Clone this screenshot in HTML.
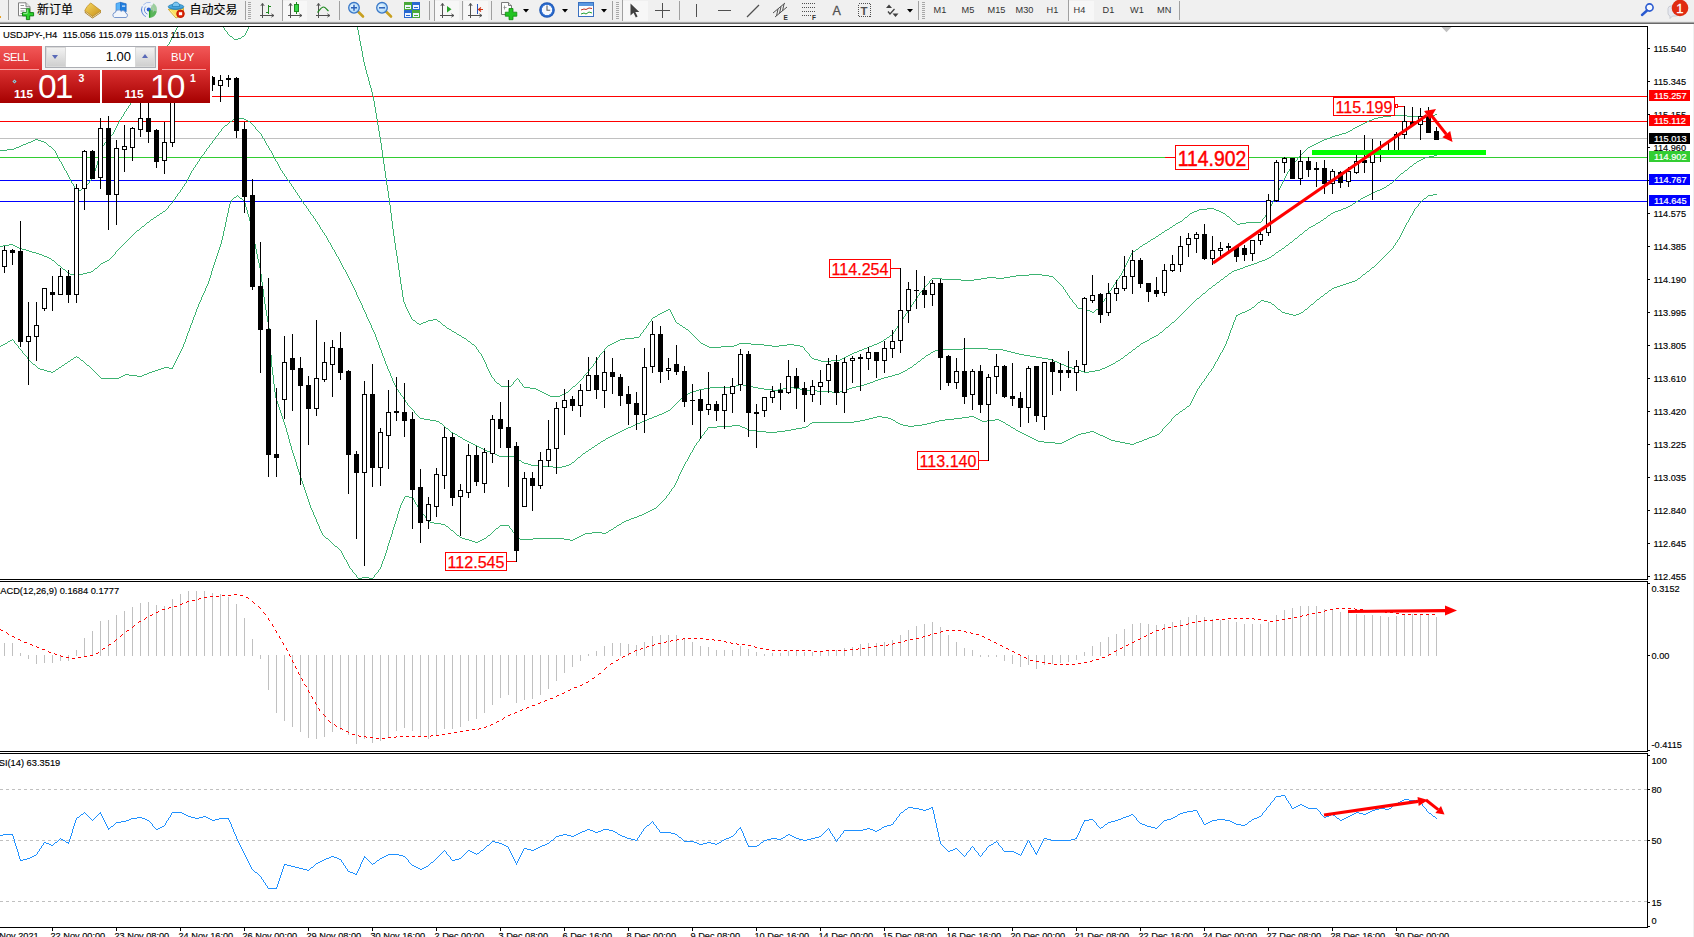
<!DOCTYPE html>
<html><head><meta charset="utf-8"><title>USDJPY H4</title>
<style>
html,body{margin:0;padding:0;background:#fff;}
body{width:1694px;height:937px;overflow:hidden;position:relative;font-family:"Liberation Sans","Noto Sans CJK SC",sans-serif;}
#chart{position:absolute;left:0;top:0;}
#chart text{font-family:"Liberation Sans","Noto Sans CJK SC",sans-serif;white-space:pre;}
#tb{position:absolute;left:0;top:0;width:1694px;height:21px;background:#f0f0f0;}
#tbb{position:absolute;left:0;top:21px;width:1694px;height:3px;background:linear-gradient(#e6e6e6 0,#e6e6e6 33%,#a4a4a4 33%,#a4a4a4 66%,#696969 66%);}
#redge{position:absolute;left:1693px;top:24px;width:1px;height:913px;background:#f0f0f0;}
.tt{position:absolute;top:3px;font-size:12px;line-height:14px;color:#000;white-space:nowrap;-webkit-text-stroke:0.12px #000;}
.tf{position:absolute;top:4px;font-size:9.2px;line-height:13px;color:#333;white-space:nowrap;}
/* trade panel */
#tp{position:absolute;left:0;top:46px;width:210px;height:57px;}
#tp div{position:absolute;box-sizing:border-box;}
.btn{background:linear-gradient(#f25858,#dc3030);color:#fff;font-size:11.3px;line-height:23px;height:24px;top:0;}
.pp{background:linear-gradient(#d93030,#a60000);top:24px;height:33px;color:#fff;}
.sm{font-size:10.5px;font-weight:bold;line-height:10px;}
.sm2{font-size:11.8px;font-weight:bold;line-height:12px;}
.bg{font-size:33.5px;line-height:32px;letter-spacing:-1.8px;}
</style></head><body>
<svg id="chart" width="1694" height="937" viewBox="0 0 1694 937">
<defs><clipPath id="mainclip"><rect x="0" y="27" width="1647" height="552"/></clipPath></defs>
<g shape-rendering="crispEdges">
<rect x="0" y="96" width="1647" height="1" fill="#ff0000"/>
<rect x="0" y="121" width="1647" height="1" fill="#ff0000"/>
<rect x="0" y="138" width="1647" height="1" fill="#c0c0c0"/>
<rect x="0" y="157" width="1647" height="1" fill="#32cd32"/>
<rect x="0" y="180" width="1647" height="1" fill="#0000ff"/>
<rect x="0" y="201" width="1647" height="1" fill="#0000ff"/>
</g>
<path d="M0 150h7v1h-7zM21 145h2v1h-2zM23 144h3v1h-3zM35 139h3v1h-3zM19 146h2v1h-2zM49 146h2v1h-2zM76 190h5v1h-5zM31 141h2v1h-2zM41 141h3v1h-3zM16 147h3v1h-3zM33 140h2v1h-2zM38 140h3v1h-3zM28 142h3v1h-3zM44 142h2v1h-2zM7 149h7v1h-7zM82 188h2v1h-2zM14 148h2v1h-2zM26 143h2v1h-2zM61 162h1v2h-1zM97 161h1v4h-1zM69 177h1v2h-1zM92 177h1v2h-1zM57 155h1v2h-1zM99 155h1v3h-1zM158 58h1v2h-1zM54 150h1v1h-1zM101 148h1v3h-1zM160 55h1v2h-1zM167 45h1v2h-1zM136 93h1v2h-1zM170 40h1v2h-1zM118 122h1v2h-1zM48 145h1v1h-1zM103 145h1v1h-1zM47 144h1v1h-1zM104 143h1v2h-1zM174 32h1v2h-1zM175 30h1v2h-1zM68 175h1v2h-1zM93 174h1v3h-1zM64 168h1v2h-1zM95 168h1v3h-1zM108 139h1v1h-1zM102 146h1v2h-1zM146 76h1v2h-1zM74 186h1v2h-1zM84 187h1v1h-1zM58 157h1v2h-1zM98 158h1v3h-1zM106 141h1v1h-1zM124 112h1v2h-1zM51 147h1v1h-1zM126 109h1v2h-1zM116 126h1v2h-1zM107 140h1v1h-1zM62 164h1v2h-1zM96 165h1v3h-1zM105 142h1v1h-1zM123 114h1v2h-1zM134 96h1v2h-1zM156 61h1v2h-1zM115 128h1v2h-1zM67 173h1v2h-1zM94 171h1v3h-1zM150 70h1v1h-1zM152 67h1v1h-1zM173 34h1v2h-1zM71 181h1v2h-1zM89 181h1v2h-1zM153 65h1v2h-1zM59 159h1v2h-1zM53 149h1v1h-1zM162 52h1v2h-1zM142 83h1v2h-1zM164 49h1v2h-1zM149 71h1v2h-1zM55 151h1v2h-1zM100 151h1v4h-1zM63 166h1v2h-1zM151 68h1v2h-1zM60 161h1v1h-1zM159 57h1v1h-1zM140 86h1v2h-1zM112 134h1v1h-1zM114 130h1v2h-1zM113 132h1v2h-1zM161 54h1v1h-1zM119 120h1v2h-1zM130 103h1v2h-1zM70 179h1v2h-1zM90 180h1v1h-1zM132 100h1v1h-1zM110 136h1v1h-1zM109 137h1v2h-1zM111 135h1v1h-1zM148 73h1v2h-1zM169 42h1v2h-1zM56 153h1v2h-1zM75 188h1v2h-1zM176 28h1v2h-1zM117 124h1v2h-1zM145 78h1v2h-1zM147 75h1v1h-1zM52 148h1v1h-1zM137 91h1v2h-1zM139 88h1v2h-1zM65 170h1v1h-1zM177 27h1v1h-1zM128 106h1v2h-1zM46 143h1v1h-1zM125 111h1v1h-1zM127 108h1v1h-1zM66 171h1v2h-1zM141 85h1v1h-1zM143 81h1v2h-1zM133 98h1v2h-1zM81 189h1v1h-1zM73 184h1v2h-1zM86 185h1v1h-1zM87 184h1v1h-1zM131 101h1v2h-1zM163 51h1v1h-1zM165 48h1v1h-1zM85 186h1v1h-1zM121 117h1v2h-1zM122 116h1v1h-1zM171 38h1v2h-1zM120 119h1v1h-1zM91 179h1v1h-1zM172 36h1v2h-1zM155 63h1v1h-1zM157 60h1v1h-1zM72 183h1v1h-1zM88 183h1v1h-1zM154 64h1v1h-1zM166 47h1v1h-1zM168 44h1v1h-1zM144 80h1v1h-1zM135 95h1v1h-1zM138 90h1v1h-1zM129 105h1v1h-1z" fill="#3cb371" shape-rendering="crispEdges"/>
<path d="M230 36h2v1h-2zM242 36h2v1h-2zM234 39h4v1h-4zM238 38h3v1h-3zM224 28h1v2h-1zM247 29h1v2h-1zM227 32h1v2h-1zM246 31h1v2h-1zM233 38h1v1h-1zM232 37h1v1h-1zM241 37h1v1h-1zM223 27h1v1h-1zM248 27h1v2h-1zM228 34h1v1h-1zM245 33h1v2h-1zM229 35h1v1h-1zM244 35h1v1h-1zM225 30h1v1h-1zM226 31h1v1h-1z" fill="#3cb371" shape-rendering="crispEdges"/>
<path d="M472 344h2v1h-2zM610 344h2v1h-2zM703 344h2v1h-2zM737 344h2v1h-2zM751 344h13v1h-13zM787 344h7v1h-7zM874 344h3v1h-3zM961 280h13v1h-13zM608 345h2v1h-2zM705 345h2v1h-2zM734 345h3v1h-3zM764 345h8v1h-8zM779 345h8v1h-8zM794 345h6v1h-6zM872 345h2v1h-2zM1383 116h8v1h-8zM1407 116h25v1h-25zM814 359h4v1h-4zM840 359h2v1h-2zM1140 246h2v1h-2zM454 332h2v1h-2zM464 338h2v1h-2zM625 338h9v1h-9zM818 360h3v1h-3zM831 360h9v1h-9zM1374 118h4v1h-4zM854 352h3v1h-3zM1197 210h2v1h-2zM1216 210h3v1h-3zM620 339h5v1h-5zM884 339h2v1h-2zM1156 236h2v1h-2zM812 358h2v1h-2zM842 358h2v1h-2zM550 396h10v1h-10zM1335 135h4v1h-4zM417 323h2v1h-2zM421 323h2v1h-2zM677 323h2v1h-2zM932 278h10v1h-10zM981 278h6v1h-6zM996 278h8v1h-8zM942 279h19v1h-19zM974 279h7v1h-7zM612 343h2v1h-2zM701 343h2v1h-2zM739 343h12v1h-12zM877 343h2v1h-2zM1010 276h6v1h-6zM1049 276h4v1h-4zM501 386h10v1h-10zM573 386h2v1h-2zM668 309h2v1h-2zM1082 309h5v1h-5zM1096 309h2v1h-2zM707 346h2v1h-2zM721 346h13v1h-13zM772 346h7v1h-7zM800 346h3v1h-3zM869 346h3v1h-3zM1029 274h13v1h-13zM1391 115h16v1h-16zM1432 115h3v1h-3zM1348 131h2v1h-2zM1194 211h3v1h-3zM1219 211h2v1h-2zM1237 224h3v1h-3zM1316 143h2v1h-2zM433 319h4v1h-4zM1367 121h2v1h-2zM1199 209h8v1h-8zM1214 209h2v1h-2zM1180 221h2v1h-2zM1233 221h2v1h-2zM1308 147h2v1h-2zM666 310h2v1h-2zM1087 310h3v1h-3zM1176 223h2v1h-2zM1240 223h6v1h-6zM846 356h2v1h-2zM1355 127h2v1h-2zM1339 134h3v1h-3zM709 347h12v1h-12zM867 347h2v1h-2zM449 329h2v1h-2zM686 329h2v1h-2zM548 395h2v1h-2zM560 395h2v1h-2zM1016 275h13v1h-13zM1042 275h7v1h-7zM459 335h2v1h-2zM890 335h2v1h-2zM1078 308h4v1h-4zM544 393h2v1h-2zM564 393h2v1h-2zM1192 212h2v1h-2zM1221 212h2v1h-2zM1324 139h3v1h-3zM542 392h2v1h-2zM566 392h2v1h-2zM447 328h2v1h-2zM662 312h2v1h-2zM1092 312h2v1h-2zM987 277h9v1h-9zM1004 277h6v1h-6zM1133 251h2v1h-2zM1361 124h2v1h-2zM844 357h2v1h-2zM658 314h2v1h-2zM468 341h2v1h-2zM616 341h2v1h-2zM881 341h2v1h-2zM1435 114h2v1h-2zM1378 117h5v1h-5zM419 324h2v1h-2zM443 325h2v1h-2zM680 325h2v1h-2zM852 353h2v1h-2zM1342 133h4v1h-4zM426 321h2v1h-2zM438 321h2v1h-2zM1363 123h2v1h-2zM1327 138h3v1h-3zM1178 222h2v1h-2zM1246 222h15v1h-15zM1190 213h2v1h-2zM1223 213h2v1h-2zM1227 216h2v1h-2zM1346 132h2v1h-2zM457 334h2v1h-2zM1357 126h2v1h-2zM859 350h3v1h-3zM1207 208h7v1h-7zM683 327h2v1h-2zM664 311h2v1h-2zM1090 311h2v1h-2zM618 340h2v1h-2zM1173 225h2v1h-2zM423 322h3v1h-3zM1145 243h2v1h-2zM1353 128h2v1h-2zM546 394h2v1h-2zM562 394h2v1h-2zM1372 119h2v1h-2zM660 313h2v1h-2zM530 388h6v1h-6zM497 383h2v1h-2zM462 337h2v1h-2zM634 337h5v1h-5zM887 337h2v1h-2zM821 361h10v1h-10zM1314 144h2v1h-2zM538 390h2v1h-2zM1330 137h2v1h-2zM524 387h6v1h-6zM1136 249h2v1h-2zM413 320h2v1h-2zM428 320h5v1h-5zM1165 230h2v1h-2zM862 349h2v1h-2zM1162 232h2v1h-2zM1185 217h2v1h-2zM1322 140h2v1h-2zM536 389h2v1h-2zM1365 122h2v1h-2zM1332 136h3v1h-3zM848 355h2v1h-2zM1143 244h2v1h-2zM452 331h2v1h-2zM1350 130h2v1h-2zM850 354h2v1h-2zM857 351h2v1h-2zM1153 238h2v1h-2zM1312 145h2v1h-2zM614 342h2v1h-2zM879 342h2v1h-2zM540 391h2v1h-2zM1167 229h2v1h-2zM864 348h3v1h-3zM1159 234h2v1h-2zM1320 141h2v1h-2zM1170 227h2v1h-2zM655 316h2v1h-2zM1151 239h2v1h-2zM1318 142h2v1h-2zM1369 120h3v1h-3zM1310 146h2v1h-2zM1148 241h2v1h-2zM653 317h2v1h-2zM1359 125h2v1h-2zM386 178h1v7h-1zM1281 184h1v2h-1zM363 57h1v5h-1zM400 277h1v7h-1zM930 280h1v1h-1zM1056 280h1v1h-1zM1117 279h1v2h-1zM474 345h1v1h-1zM376 113h1v6h-1zM402 290h1v7h-1zM921 291h1v1h-1zM1065 290h1v2h-1zM1109 291h1v2h-1zM919 293h1v2h-1zM1067 293h1v2h-1zM1107 294h1v2h-1zM496 382h1v1h-1zM513 382h1v2h-1zM520 382h1v1h-1zM578 382h1v1h-1zM483 358h1v2h-1zM597 358h1v2h-1zM395 243h1v7h-1zM642 332h1v1h-1zM690 332h1v1h-1zM893 332h1v2h-1zM696 338h1v1h-1zM886 338h1v1h-1zM484 360h1v2h-1zM596 360h1v1h-1zM479 352h1v1h-1zM602 352h1v1h-1zM807 352h1v1h-1zM396 250h1v6h-1zM1132 252h1v1h-1zM403 297h1v5h-1zM916 298h1v1h-1zM1070 298h1v1h-1zM1105 298h1v1h-1zM391 213h1v8h-1zM1189 214h1v1h-1zM1225 214h1v1h-1zM1266 214h1v1h-1zM390 205h1v8h-1zM1268 210h1v2h-1zM359 35h1v6h-1zM466 339h1v1h-1zM697 339h1v1h-1zM385 171h1v7h-1zM1287 172h1v2h-1zM394 236h1v7h-1zM379 131h1v6h-1zM370 85h1v3h-1zM397 256h1v7h-1zM1128 259h1v2h-1zM441 323h1v1h-1zM648 323h1v2h-1zM899 323h1v2h-1zM1054 278h1v1h-1zM1118 278h1v1h-1zM931 279h1v1h-1zM1055 279h1v1h-1zM471 343h1v1h-1zM373 96h1v5h-1zM398 263h1v7h-1zM1123 269h1v2h-1zM486 364h1v3h-1zM593 364h1v2h-1zM399 270h1v7h-1zM1119 276h1v2h-1zM523 386h1v1h-1zM388 191h1v7h-1zM1275 196h1v2h-1zM407 309h1v2h-1zM909 308h1v2h-1zM389 198h1v7h-1zM1274 198h1v2h-1zM387 185h1v6h-1zM475 346h1v1h-1zM607 346h1v1h-1zM1108 293h1v1h-1zM1121 273h1v2h-1zM365 66h1v4h-1zM392 221h1v8h-1zM1175 224h1v1h-1zM490 373h1v2h-1zM585 374h1v1h-1zM366 70h1v4h-1zM381 143h1v7h-1zM412 319h1v1h-1zM651 319h1v2h-1zM674 318h1v2h-1zM902 319h1v1h-1zM393 229h1v7h-1zM1158 235h1v1h-1zM1277 192h1v2h-1zM1182 220h1v1h-1zM1232 220h1v1h-1zM1262 219h1v2h-1zM915 299h1v2h-1zM1072 300h1v2h-1zM1104 299h1v2h-1zM494 379h1v2h-1zM515 380h1v1h-1zM519 380h1v2h-1zM580 380h1v1h-1zM377 119h1v6h-1zM1269 208h1v2h-1zM1285 176h1v2h-1zM1261 221h1v1h-1zM1127 261h1v2h-1zM929 281h1v2h-1zM1057 281h1v1h-1zM1116 281h1v1h-1zM1142 245h1v1h-1zM1058 282h1v1h-1zM1115 282h1v2h-1zM375 107h1v6h-1zM917 296h1v2h-1zM1069 296h1v2h-1zM1106 296h1v2h-1zM670 310h1v2h-1zM908 310h1v1h-1zM1095 310h1v1h-1zM1236 223h1v1h-1zM401 284h1v6h-1zM924 287h1v1h-1zM1063 287h1v2h-1zM1112 287h1v1h-1zM485 362h1v2h-1zM595 361h1v2h-1zM482 356h1v2h-1zM599 355h1v2h-1zM810 356h1v1h-1zM358 30h1v5h-1zM378 125h1v6h-1zM371 88h1v4h-1zM1276 194h1v2h-1zM476 347h1v2h-1zM606 347h1v1h-1zM803 347h1v1h-1zM384 164h1v7h-1zM1289 169h1v2h-1zM644 329h1v1h-1zM895 329h1v2h-1zM451 330h1v1h-1zM643 330h1v2h-1zM688 330h1v1h-1zM1120 275h1v1h-1zM382 150h1v7h-1zM1300 155h1v1h-1zM928 283h1v1h-1zM1059 283h1v1h-1zM640 334h1v2h-1zM693 335h1v1h-1zM1188 215h1v1h-1zM1226 215h1v1h-1zM1265 215h1v2h-1zM406 307h1v2h-1zM1098 308h1v1h-1zM1267 212h1v2h-1zM499 384h1v1h-1zM512 384h1v1h-1zM522 384h1v2h-1zM576 384h1v1h-1zM360 41h1v5h-1zM927 284h1v1h-1zM1060 284h1v1h-1zM1114 284h1v1h-1zM1288 171h1v1h-1zM361 46h1v5h-1zM405 304h1v3h-1zM911 305h1v2h-1zM1076 305h1v2h-1zM1100 306h1v1h-1zM374 101h1v6h-1zM380 137h1v6h-1zM1284 178h1v2h-1zM1071 299h1v1h-1zM645 328h1v1h-1zM685 328h1v1h-1zM896 328h1v1h-1zM408 311h1v2h-1zM671 312h1v2h-1zM907 311h1v2h-1zM383 157h1v7h-1zM1294 162h1v2h-1zM367 74h1v3h-1zM1053 277h1v1h-1zM491 375h1v2h-1zM584 375h1v1h-1zM598 357h1v1h-1zM811 357h1v1h-1zM495 381h1v1h-1zM514 381h1v1h-1zM579 381h1v1h-1zM409 313h1v2h-1zM672 314h1v2h-1zM905 314h1v2h-1zM925 286h1v1h-1zM1062 286h1v1h-1zM1113 285h1v2h-1zM699 341h1v1h-1zM442 324h1v1h-1zM679 324h1v1h-1zM647 325h1v1h-1zM898 325h1v1h-1zM1138 248h1v1h-1zM480 353h1v1h-1zM601 353h1v1h-1zM808 353h1v1h-1zM586 373h1v1h-1zM1155 237h1v1h-1zM1183 219h1v1h-1zM1231 219h1v1h-1zM415 321h1v1h-1zM650 321h1v1h-1zM675 320h1v2h-1zM901 320h1v2h-1zM1286 174h1v2h-1zM592 366h1v1h-1zM1235 222h1v1h-1zM488 369h1v2h-1zM589 369h1v2h-1zM404 302h1v2h-1zM913 302h1v2h-1zM1073 302h1v1h-1zM1102 302h1v2h-1zM1139 247h1v1h-1zM1273 200h1v2h-1zM1187 216h1v1h-1zM692 334h1v1h-1zM892 334h1v1h-1zM922 290h1v1h-1zM1110 290h1v1h-1zM478 350h1v2h-1zM604 349h1v2h-1zM805 350h1v1h-1zM493 378h1v1h-1zM517 378h1v1h-1zM582 378h1v1h-1zM446 327h1v1h-1zM646 326h1v2h-1zM897 326h1v2h-1zM1094 311h1v1h-1zM1074 303h1v1h-1zM362 51h1v6h-1zM1306 149h1v1h-1zM1305 150h1v1h-1zM926 285h1v1h-1zM1061 285h1v1h-1zM1293 164h1v1h-1zM1352 129h1v1h-1zM467 340h1v1h-1zM698 340h1v1h-1zM883 340h1v1h-1zM416 322h1v1h-1zM440 322h1v1h-1zM649 322h1v1h-1zM676 322h1v1h-1zM900 322h1v1h-1zM1272 202h1v2h-1zM500 385h1v1h-1zM511 385h1v1h-1zM575 385h1v1h-1zM912 304h1v1h-1zM1075 304h1v1h-1zM1101 304h1v2h-1zM364 62h1v4h-1zM1122 271h1v2h-1zM411 317h1v2h-1zM652 318h1v1h-1zM903 317h1v2h-1zM906 313h1v1h-1zM910 307h1v1h-1zM1077 307h1v1h-1zM1099 307h1v1h-1zM1280 186h1v2h-1zM1271 204h1v2h-1zM571 388h1v1h-1zM920 292h1v1h-1zM1066 292h1v1h-1zM461 336h1v1h-1zM639 336h1v1h-1zM694 336h1v1h-1zM889 336h1v1h-1zM521 383h1v1h-1zM577 383h1v1h-1zM695 337h1v1h-1zM357 27h1v3h-1zM569 390h1v1h-1zM572 387h1v1h-1zM1164 231h1v1h-1zM437 320h1v1h-1zM1298 157h1v1h-1zM477 349h1v1h-1zM804 348h1v2h-1zM445 326h1v1h-1zM682 326h1v1h-1zM1229 217h1v1h-1zM1264 217h1v1h-1zM1150 240h1v1h-1zM1278 190h1v2h-1zM1303 152h1v1h-1zM1184 218h1v1h-1zM1230 218h1v1h-1zM1263 218h1v1h-1zM1131 253h1v2h-1zM1172 226h1v1h-1zM570 389h1v1h-1zM1292 165h1v2h-1zM368 77h1v4h-1zM583 376h1v2h-1zM1130 255h1v2h-1zM1279 188h1v2h-1zM516 379h1v1h-1zM518 379h1v1h-1zM581 379h1v1h-1zM1283 180h1v2h-1zM1135 250h1v1h-1zM487 367h1v2h-1zM590 368h1v1h-1zM481 354h1v2h-1zM809 354h1v2h-1zM1147 242h1v1h-1zM1304 151h1v1h-1zM1297 158h1v2h-1zM689 331h1v1h-1zM894 331h1v1h-1zM600 354h1v1h-1zM372 92h1v4h-1zM1169 228h1v1h-1zM603 351h1v1h-1zM806 351h1v1h-1zM410 315h1v2h-1zM657 315h1v1h-1zM591 367h1v1h-1zM470 342h1v1h-1zM700 342h1v1h-1zM1291 167h1v1h-1zM568 391h1v1h-1zM923 288h1v2h-1zM1111 288h1v2h-1zM1299 156h1v1h-1zM605 348h1v1h-1zM1064 289h1v1h-1zM918 295h1v1h-1zM1068 295h1v1h-1zM1126 263h1v2h-1zM1270 206h1v2h-1zM1302 153h1v1h-1zM1129 257h1v2h-1zM673 316h1v2h-1zM904 316h1v1h-1zM1125 265h1v2h-1zM914 301h1v1h-1zM1103 301h1v1h-1zM1124 267h1v2h-1zM369 81h1v4h-1zM456 333h1v1h-1zM641 333h1v1h-1zM691 333h1v1h-1zM1282 182h1v2h-1zM1161 233h1v1h-1zM489 371h1v2h-1zM588 371h1v1h-1zM1290 168h1v1h-1zM492 377h1v1h-1zM594 363h1v1h-1zM1296 160h1v1h-1zM1301 154h1v1h-1zM587 372h1v1h-1zM1295 161h1v1h-1zM1307 148h1v1h-1z" fill="#3cb371" shape-rendering="crispEdges"/>
<path d="M926 355h2v1h-2zM1024 355h6v1h-6zM1125 355h2v1h-2zM692 391h4v1h-4zM817 391h15v1h-15zM840 391h3v1h-3zM1358 200h2v1h-2zM908 368h2v1h-2zM1072 368h2v1h-2zM1102 368h3v1h-3zM870 382h3v1h-3zM1064 365h2v1h-2zM1109 365h2v1h-2zM19 248h3v1h-3zM1282 248h2v1h-2zM9 244h4v1h-4zM739 384h4v1h-4zM864 384h3v1h-3zM455 434h2v1h-2zM614 434h2v1h-2zM1145 341h2v1h-2zM1052 360h2v1h-2zM1118 360h2v1h-2zM1221 279h2v1h-2zM1290 242h2v1h-2zM42 255h2v1h-2zM1272 255h2v1h-2zM147 222h2v1h-2zM1318 222h2v1h-2zM458 436h2v1h-2zM610 436h2v1h-2zM1147 340h2v1h-2zM1295 238h2v1h-2zM1213 285h2v1h-2zM710 387h22v1h-22zM753 387h5v1h-5zM788 387h6v1h-6zM852 387h4v1h-4zM922 358h2v1h-2zM1042 358h6v1h-6zM1121 358h2v1h-2zM696 390h3v1h-3zM772 390h6v1h-6zM806 390h11v1h-11zM843 390h3v1h-3zM963 348h25v1h-25zM47 257h2v1h-2zM1269 257h2v1h-2zM664 412h2v1h-2zM495 454h2v1h-2zM63 269h2v1h-2zM1237 269h3v1h-3zM101 263h2v1h-2zM1254 263h3v1h-3zM487 451h3v1h-3zM586 451h2v1h-2zM1309 227h2v1h-2zM479 447h2v1h-2zM592 447h2v1h-2zM659 414h3v1h-3zM1251 264h3v1h-3zM1375 191h2v1h-2zM471 443h2v1h-2zM598 443h2v1h-2zM1074 369h3v1h-3zM1100 369h2v1h-2zM690 392h2v1h-2zM832 392h8v1h-8zM1390 183h2v1h-2zM1382 188h2v1h-2zM522 462h2v1h-2zM572 462h2v1h-2zM736 385h3v1h-3zM743 385h5v1h-5zM860 385h4v1h-4zM1380 189h2v1h-2zM684 396h2v1h-2zM1341 209h2v1h-2zM44 256h3v1h-3zM157 215h2v1h-2zM1328 215h2v1h-2zM888 376h4v1h-4zM635 424h2v1h-2zM70 274h13v1h-13zM1348 206h2v1h-2zM52 260h2v1h-2zM107 260h2v1h-2zM1262 260h3v1h-3zM631 426h2v1h-2zM142 226h2v1h-2zM1311 226h2v1h-2zM36 253h3v1h-3zM1243 267h2v1h-2zM105 261h2v1h-2zM1259 261h3v1h-3zM1405 170h2v1h-2zM873 381h2v1h-2zM83 273h4v1h-4zM1229 273h2v1h-2zM704 388h6v1h-6zM758 388h6v1h-6zM783 388h5v1h-5zM794 388h6v1h-6zM849 388h3v1h-3zM1384 187h2v1h-2zM26 250h3v1h-3zM1279 250h2v1h-2zM528 464h3v1h-3zM569 464h2v1h-2zM1197 298h2v1h-2zM1154 336h2v1h-2zM1217 282h2v1h-2zM1048 359h4v1h-4zM553 467h9v1h-9zM233 119h5v1h-5zM244 119h2v1h-2zM1057 362h2v1h-2zM878 379h3v1h-3zM1166 327h2v1h-2zM928 354h2v1h-2zM1019 354h5v1h-5zM17 247h2v1h-2zM95 268h2v1h-2zM1240 268h3v1h-3zM154 217h2v1h-2zM688 393h2v1h-2zM910 367h2v1h-2zM1069 367h3v1h-3zM1105 367h2v1h-2zM1434 155h3v1h-3zM1373 192h2v1h-2zM436 421h3v1h-3zM642 421h2v1h-2zM943 349h20v1h-20zM988 349h15v1h-15zM1133 349h2v1h-2zM662 413h2v1h-2zM1036 357h6v1h-6zM440 423h2v1h-2zM637 423h3v1h-3zM490 452h2v1h-2zM699 389h5v1h-5zM764 389h8v1h-8zM778 389h5v1h-5zM800 389h6v1h-6zM846 389h3v1h-3zM485 450h2v1h-2zM477 446h2v1h-2zM1066 366h3v1h-3zM1107 366h2v1h-2zM1324 218h2v1h-2zM58 265h2v1h-2zM1248 265h3v1h-3zM519 460h2v1h-2zM499 456h16v1h-16zM640 422h2v1h-2zM0 246h3v1h-3zM15 246h2v1h-2zM67 272h2v1h-2zM87 272h4v1h-4zM1300 234h2v1h-2zM903 371h2v1h-2zM1081 371h3v1h-3zM1089 371h6v1h-6zM1015 353h4v1h-4zM901 372h2v1h-2zM1084 372h5v1h-5zM475 445h2v1h-2zM595 445h2v1h-2zM1234 270h3v1h-3zM895 374h4v1h-4zM1030 356h6v1h-6zM668 410h2v1h-2zM424 419h6v1h-6zM647 419h2v1h-2zM515 457h2v1h-2zM578 457h2v1h-2zM931 352h2v1h-2zM1011 352h4v1h-4zM1129 352h2v1h-2zM1423 158h2v1h-2zM884 377h4v1h-4zM1365 196h2v1h-2zM1361 198h2v1h-2zM29 251h3v1h-3zM103 262h2v1h-2zM1257 262h2v1h-2zM652 417h2v1h-2zM22 249h4v1h-4zM3 245h6v1h-6zM13 245h2v1h-2zM1286 245h2v1h-2zM935 350h8v1h-8zM1003 350h4v1h-4zM32 252h4v1h-4zM1276 252h2v1h-2zM1343 208h3v1h-3zM1419 160h2v1h-2zM463 439h2v1h-2zM483 449h2v1h-2zM589 449h2v1h-2zM1245 266h3v1h-3zM467 441h2v1h-2zM601 441h2v1h-2zM875 380h3v1h-3zM539 466h14v1h-14zM562 466h4v1h-4zM918 361h2v1h-2zM1054 361h3v1h-3zM1116 361h2v1h-2zM1410 166h2v1h-2zM732 386h4v1h-4zM748 386h5v1h-5zM856 386h4v1h-4zM624 429h2v1h-2zM620 431h2v1h-2zM524 463h4v1h-4zM1429 156h5v1h-5zM1137 346h2v1h-2zM933 351h2v1h-2zM1007 351h4v1h-4zM1425 157h4v1h-4zM163 211h2v1h-2zM1335 211h3v1h-3zM1387 185h2v1h-2zM1346 207h2v1h-2zM1316 223h2v1h-2zM1421 159h2v1h-2zM492 453h3v1h-3zM583 453h2v1h-2zM612 435h2v1h-2zM160 213h2v1h-2zM1331 213h2v1h-2zM914 364h2v1h-2zM1061 364h3v1h-3zM1111 364h2v1h-2zM1265 259h2v1h-2zM1333 212h2v1h-2zM446 428h2v1h-2zM626 428h2v1h-2zM1160 332h2v1h-2zM1353 203h2v1h-2zM654 416h3v1h-3zM1059 363h2v1h-2zM1113 363h2v1h-2zM1350 205h2v1h-2zM905 370h2v1h-2zM1077 370h4v1h-4zM1095 370h5v1h-5zM628 427h3v1h-3zM137 230h2v1h-2zM1305 230h2v1h-2zM481 448h2v1h-2zM473 444h2v1h-2zM531 465h8v1h-8zM566 465h3v1h-3zM1156 335h2v1h-2zM420 418h4v1h-4zM649 418h3v1h-3zM151 219h2v1h-2zM460 437h2v1h-2zM608 437h2v1h-2zM1203 293h2v1h-2zM633 425h2v1h-2zM1225 276h2v1h-2zM430 420h6v1h-6zM644 420h3v1h-3zM91 271h2v1h-2zM1232 271h2v1h-2zM666 411h2v1h-2zM1369 194h2v1h-2zM39 254h3v1h-3zM622 430h2v1h-2zM1150 338h2v1h-2zM1371 193h2v1h-2zM1417 161h2v1h-2zM881 378h3v1h-3zM1363 197h2v1h-2zM465 440h2v1h-2zM603 440h2v1h-2zM1367 195h2v1h-2zM1377 190h3v1h-3zM1152 337h2v1h-2zM453 433h2v1h-2zM616 433h2v1h-2zM49 258h2v1h-2zM1267 258h2v1h-2zM1313 225h2v1h-2zM238 118h6v1h-6zM1401 173h2v1h-2zM1143 342h2v1h-2zM1209 288h2v1h-2zM225 125h2v1h-2zM451 432h2v1h-2zM618 432h2v1h-2zM230 121h2v1h-2zM248 121h2v1h-2zM469 442h2v1h-2zM1414 163h2v1h-2zM606 438h2v1h-2zM1172 322h2v1h-2zM1321 220h2v1h-2zM657 415h2v1h-2zM867 383h3v1h-3zM1338 210h3v1h-3zM681 398h2v1h-2zM1356 201h2v1h-2zM497 455h2v1h-2zM246 120h2v1h-2zM1141 343h2v1h-2zM892 375h3v1h-3zM899 373h2v1h-2zM382 353h1v3h-1zM398 390h1v2h-1zM173 200h1v2h-1zM301 199h1v2h-1zM387 366h1v3h-1zM393 381h1v2h-1zM386 364h1v2h-1zM913 365h1v1h-1zM119 248h1v1h-1zM332 247h1v2h-1zM366 314h1v3h-1zM1180 315h1v1h-1zM123 244h1v1h-1zM330 243h1v2h-1zM1288 244h1v1h-1zM394 383h1v2h-1zM190 173h1v2h-1zM284 174h1v2h-1zM1400 174h1v1h-1zM377 340h1v2h-1zM384 358h1v3h-1zM920 360h1v1h-1zM349 278h1v2h-1zM221 129h1v2h-1zM257 130h1v1h-1zM125 242h1v1h-1zM329 242h1v1h-1zM352 284h1v2h-1zM1215 284h1v1h-1zM113 255h1v1h-1zM336 254h1v2h-1zM317 222h1v2h-1zM129 238h1v1h-1zM327 238h1v2h-1zM396 387h1v2h-1zM184 184h1v2h-1zM291 184h1v2h-1zM1389 184h1v1h-1zM380 348h1v2h-1zM1135 348h1v1h-1zM111 257h1v1h-1zM338 257h1v2h-1zM216 136h1v1h-1zM262 136h1v2h-1zM414 411h1v2h-1zM582 454h1v1h-1zM188 177h1v2h-1zM286 177h1v2h-1zM1397 177h1v1h-1zM94 269h1v1h-1zM344 269h1v1h-1zM56 263h1v1h-1zM341 263h1v2h-1zM204 152h1v2h-1zM272 153h1v2h-1zM141 227h1v1h-1zM320 227h1v2h-1zM416 414h1v1h-1zM57 264h1v1h-1zM100 264h1v1h-1zM363 308h1v2h-1zM1187 308h1v1h-1zM180 190h1v2h-1zM295 190h1v2h-1zM135 232h1v1h-1zM323 232h1v1h-1zM1303 232h1v1h-1zM228 123h1v1h-1zM251 123h1v1h-1zM193 168h1v2h-1zM280 168h1v2h-1zM1408 168h1v1h-1zM388 369h1v2h-1zM907 369h1v1h-1zM399 392h1v1h-1zM185 183h1v1h-1zM290 183h1v1h-1zM521 461h1v1h-1zM574 461h1v1h-1zM182 187h1v2h-1zM293 187h1v2h-1zM156 216h1v1h-1zM313 216h1v2h-1zM1327 216h1v1h-1zM395 385h1v2h-1zM181 189h1v1h-1zM294 189h1v1h-1zM271 151h1v2h-1zM402 396h1v1h-1zM166 209h1v1h-1zM308 209h1v2h-1zM112 256h1v1h-1zM337 256h1v1h-1zM1271 256h1v1h-1zM312 215h1v1h-1zM391 376h1v2h-1zM442 424h1v1h-1zM347 274h1v2h-1zM1228 274h1v1h-1zM168 206h1v2h-1zM306 206h1v2h-1zM215 137h1v2h-1zM263 138h1v1h-1zM339 259h1v2h-1zM444 426h1v1h-1zM319 225h1v2h-1zM195 165h1v2h-1zM278 164h1v2h-1zM1412 165h1v1h-1zM378 342h1v3h-1zM1140 344h1v1h-1zM115 252h1v2h-1zM335 252h1v2h-1zM1275 253h1v1h-1zM61 267h1v1h-1zM97 267h1v1h-1zM343 267h1v2h-1zM210 144h1v1h-1zM266 143h1v2h-1zM54 261h1v1h-1zM340 261h1v2h-1zM192 170h1v1h-1zM281 170h1v1h-1zM69 273h1v1h-1zM346 272h1v2h-1zM117 250h1v1h-1zM334 250h1v2h-1zM517 458h1v1h-1zM577 458h1v1h-1zM358 297h1v2h-1zM375 334h1v3h-1zM351 282h1v2h-1zM921 359h1v1h-1zM1120 359h1v1h-1zM203 154h1v1h-1zM411 408h1v1h-1zM671 408h1v1h-1zM256 129h1v1h-1zM385 361h1v3h-1zM917 362h1v1h-1zM1115 362h1v1h-1zM392 378h1v3h-1zM371 325h1v3h-1zM1127 354h1v1h-1zM194 167h1v1h-1zM279 166h1v2h-1zM1409 167h1v1h-1zM120 247h1v1h-1zM1284 247h1v1h-1zM183 186h1v1h-1zM292 186h1v1h-1zM1386 186h1v1h-1zM405 400h1v2h-1zM678 401h1v1h-1zM62 268h1v1h-1zM191 171h1v2h-1zM282 171h1v2h-1zM1403 172h1v1h-1zM1326 217h1v1h-1zM400 393h1v2h-1zM202 155h1v1h-1zM273 155h1v2h-1zM179 192h1v1h-1zM296 192h1v1h-1zM404 399h1v1h-1zM680 399h1v1h-1zM415 413h1v1h-1zM383 356h1v2h-1zM924 357h1v1h-1zM1123 357h1v1h-1zM379 345h1v3h-1zM1136 347h1v1h-1zM186 181h1v2h-1zM289 181h1v2h-1zM1393 181h1v1h-1zM585 452h1v1h-1zM397 389h1v1h-1zM588 450h1v1h-1zM594 446h1v1h-1zM912 366h1v1h-1zM172 202h1v1h-1zM303 202h1v2h-1zM1355 202h1v1h-1zM153 218h1v1h-1zM314 218h1v1h-1zM99 265h1v1h-1zM342 265h1v2h-1zM575 460h1v1h-1zM580 456h1v1h-1zM189 175h1v2h-1zM285 176h1v1h-1zM1398 176h1v1h-1zM439 422h1v1h-1zM126 241h1v1h-1zM328 240h1v2h-1zM1292 241h1v1h-1zM121 246h1v1h-1zM331 245h1v2h-1zM1285 246h1v1h-1zM356 292h1v3h-1zM1202 294h1v1h-1zM127 240h1v1h-1zM1293 240h1v1h-1zM140 228h1v1h-1zM1308 228h1v1h-1zM1231 272h1v1h-1zM139 229h1v1h-1zM321 229h1v1h-1zM1307 229h1v1h-1zM133 234h1v1h-1zM324 233h1v2h-1zM389 371h1v2h-1zM367 317h1v2h-1zM1178 317h1v1h-1zM1407 169h1v1h-1zM209 145h1v2h-1zM267 145h1v1h-1zM930 353h1v1h-1zM1128 353h1v1h-1zM1399 175h1v1h-1zM1179 316h1v1h-1zM65 270h1v1h-1zM93 270h1v1h-1zM345 270h1v2h-1zM374 332h1v2h-1zM1159 333h1v1h-1zM390 373h1v3h-1zM925 356h1v1h-1zM1124 356h1v1h-1zM413 410h1v1h-1zM350 280h1v2h-1zM1219 281h1v1h-1zM220 131h1v1h-1zM258 131h1v1h-1zM381 350h1v3h-1zM200 158h1v1h-1zM274 157h1v2h-1zM176 196h1v1h-1zM299 196h1v2h-1zM175 197h1v2h-1zM300 198h1v1h-1zM116 251h1v1h-1zM1278 251h1v1h-1zM55 262h1v1h-1zM419 417h1v1h-1zM227 124h1v1h-1zM252 124h1v1h-1zM118 249h1v1h-1zM333 249h1v1h-1zM1281 249h1v1h-1zM122 245h1v1h-1zM208 147h1v1h-1zM268 146h1v2h-1zM1132 350h1v1h-1zM167 208h1v1h-1zM307 208h1v1h-1zM136 231h1v1h-1zM322 230h1v2h-1zM1304 231h1v1h-1zM217 135h1v1h-1zM261 134h1v2h-1zM199 159h1v2h-1zM275 159h1v2h-1zM605 439h1v1h-1zM130 237h1v1h-1zM326 236h1v2h-1zM1297 237h1v1h-1zM60 266h1v1h-1zM98 266h1v1h-1zM1139 345h1v1h-1zM365 312h1v2h-1zM1182 313h1v1h-1zM355 290h1v2h-1zM1206 291h1v1h-1zM1181 314h1v1h-1zM448 429h1v1h-1zM1404 171h1v1h-1zM450 431h1v1h-1zM571 463h1v1h-1zM201 156h1v2h-1zM373 330h1v2h-1zM1163 330h1v1h-1zM412 409h1v1h-1zM670 409h1v1h-1zM370 323h1v2h-1zM1171 323h1v1h-1zM1131 351h1v1h-1zM309 211h1v1h-1zM1162 331h1v1h-1zM170 204h1v1h-1zM304 204h1v1h-1zM1352 204h1v1h-1zM146 223h1v1h-1zM457 435h1v1h-1zM310 212h1v2h-1zM1169 325h1v1h-1zM134 233h1v1h-1zM1302 233h1v1h-1zM353 286h1v2h-1zM1212 286h1v1h-1zM51 259h1v1h-1zM109 259h1v1h-1zM162 212h1v1h-1zM364 310h1v2h-1zM1185 310h1v1h-1zM187 179h1v2h-1zM288 180h1v1h-1zM1394 180h1v1h-1zM171 203h1v1h-1zM174 199h1v1h-1zM1360 199h1v1h-1zM418 416h1v1h-1zM916 363h1v1h-1zM169 205h1v1h-1zM305 205h1v1h-1zM361 303h1v2h-1zM1192 303h1v1h-1zM445 427h1v1h-1zM360 301h1v2h-1zM1193 302h1v1h-1zM213 140h1v1h-1zM264 139h1v2h-1zM591 448h1v1h-1zM597 444h1v1h-1zM1199 297h1v1h-1zM224 126h1v1h-1zM254 126h1v1h-1zM315 219h1v2h-1zM1323 219h1v1h-1zM218 133h1v2h-1zM131 236h1v1h-1zM1298 236h1v1h-1zM145 224h1v1h-1zM318 224h1v1h-1zM1315 224h1v1h-1zM372 328h1v2h-1zM1164 329h1v1h-1zM443 425h1v1h-1zM348 276h1v2h-1zM66 271h1v1h-1zM177 194h1v2h-1zM297 193h1v2h-1zM362 305h1v3h-1zM1190 305h1v1h-1zM114 254h1v1h-1zM1274 254h1v1h-1zM1205 292h1v1h-1zM449 430h1v1h-1zM369 321h1v2h-1zM1174 321h1v1h-1zM401 395h1v1h-1zM686 395h1v1h-1zM376 337h1v3h-1zM128 239h1v1h-1zM1294 239h1v1h-1zM178 193h1v1h-1zM124 243h1v1h-1zM1289 243h1v1h-1zM198 161h1v1h-1zM276 161h1v1h-1zM1170 324h1v1h-1zM159 214h1v1h-1zM311 214h1v1h-1zM1330 214h1v1h-1zM1220 280h1v1h-1zM1177 318h1v1h-1zM1194 301h1v1h-1zM214 139h1v1h-1zM1184 311h1v1h-1zM368 319h1v2h-1zM1176 319h1v1h-1zM298 195h1v1h-1zM403 397h1v2h-1zM683 397h1v1h-1zM1191 304h1v1h-1zM1188 307h1v1h-1zM518 459h1v1h-1zM576 459h1v1h-1zM110 258h1v1h-1zM229 122h1v1h-1zM250 122h1v1h-1zM144 225h1v1h-1zM212 141h1v2h-1zM265 141h1v2h-1zM196 164h1v1h-1zM1413 164h1v1h-1zM283 173h1v1h-1zM1396 178h1v1h-1zM407 403h1v2h-1zM675 404h1v1h-1zM679 400h1v1h-1zM409 406h1v1h-1zM673 406h1v1h-1zM354 288h1v2h-1zM132 235h1v1h-1zM325 235h1v1h-1zM1299 235h1v1h-1zM253 125h1v1h-1zM219 132h1v1h-1zM259 132h1v1h-1zM1158 334h1v1h-1zM1211 287h1v1h-1zM1227 275h1v1h-1zM600 442h1v1h-1zM1168 326h1v1h-1zM222 128h1v1h-1zM255 127h1v2h-1zM197 162h1v2h-1zM277 162h1v2h-1zM1207 290h1v1h-1zM149 221h1v1h-1zM316 221h1v1h-1zM1320 221h1v1h-1zM462 438h1v1h-1zM1189 306h1v1h-1zM408 405h1v1h-1zM674 405h1v1h-1zM1149 339h1v1h-1zM287 179h1v1h-1zM1395 179h1v1h-1zM150 220h1v1h-1zM417 415h1v1h-1zM260 133h1v1h-1zM165 210h1v1h-1zM1175 320h1v1h-1zM1224 277h1v1h-1zM302 201h1v1h-1zM206 149h1v2h-1zM269 148h1v2h-1zM359 299h1v2h-1zM1196 299h1v1h-1zM223 127h1v1h-1zM357 295h1v2h-1zM1201 295h1v1h-1zM581 455h1v1h-1zM232 120h1v1h-1zM1416 162h1v1h-1zM676 403h1v1h-1zM1186 309h1v1h-1zM1183 312h1v1h-1zM1392 182h1v1h-1zM1208 289h1v1h-1zM205 151h1v1h-1zM1165 328h1v1h-1zM211 143h1v1h-1zM207 148h1v1h-1zM410 407h1v1h-1zM672 407h1v1h-1zM1223 278h1v1h-1zM1195 300h1v1h-1zM687 394h1v1h-1zM270 150h1v1h-1zM1200 296h1v1h-1zM406 402h1v1h-1zM677 402h1v1h-1zM1216 283h1v1h-1z" fill="#3cb371" shape-rendering="crispEdges"/>
<path d="M869 418h4v1h-4zM888 418h3v1h-3zM954 418h8v1h-8zM976 418h2v1h-2zM1 345h2v1h-2zM732 425h8v1h-8zM903 425h5v1h-5zM914 425h8v1h-8zM1008 425h2v1h-2zM756 431h10v1h-10zM777 431h8v1h-8zM1018 431h2v1h-2zM1090 431h4v1h-4zM749 430h7v1h-7zM785 430h6v1h-6zM1016 430h2v1h-2zM812 422h42v1h-42zM896 422h2v1h-2zM931 422h4v1h-4zM1003 422h2v1h-2zM465 539h4v1h-4zM482 539h2v1h-2zM520 539h13v1h-13zM564 539h6v1h-6zM573 539h2v1h-2zM1261 300h3v1h-3zM652 509h2v1h-2zM81 360h2v1h-2zM579 536h2v1h-2zM860 420h5v1h-5zM893 420h2v1h-2zM939 420h6v1h-6zM980 420h2v1h-2zM987 420h8v1h-8zM999 420h2v1h-2zM854 421h6v1h-6zM935 421h4v1h-4zM982 421h5v1h-5zM1001 421h2v1h-2zM592 532h10v1h-10zM606 532h2v1h-2zM1428 195h5v1h-5zM708 427h9v1h-9zM742 427h3v1h-3zM802 427h4v1h-4zM1011 427h2v1h-2zM457 535h2v1h-2zM488 535h2v1h-2zM581 535h2v1h-2zM637 516h2v1h-2zM614 527h2v1h-2zM1028 436h2v1h-2zM1074 436h2v1h-2zM1103 436h2v1h-2zM1152 436h3v1h-3zM1038 441h6v1h-6zM1064 441h2v1h-2zM1115 441h5v1h-5zM1139 441h3v1h-3zM362 577h7v1h-7zM766 432h11v1h-11zM1020 432h2v1h-2zM1086 432h4v1h-4zM1094 432h2v1h-2zM405 496h4v1h-4zM59 367h2v1h-2zM164 367h5v1h-5zM865 419h4v1h-4zM891 419h2v1h-2zM945 419h9v1h-9zM978 419h2v1h-2zM995 419h4v1h-4zM1036 440h2v1h-2zM1066 440h2v1h-2zM1111 440h4v1h-4zM1142 440h2v1h-2zM1258 302h2v1h-2zM1268 302h3v1h-3zM648 511h2v1h-2zM472 541h3v1h-3zM478 541h2v1h-2zM441 524h4v1h-4zM619 524h2v1h-2zM1044 442h11v1h-11zM1062 442h2v1h-2zM1120 442h5v1h-5zM1136 442h3v1h-3zM1183 409h2v1h-2zM68 361h2v1h-2zM583 534h2v1h-2zM873 417h4v1h-4zM882 417h6v1h-6zM962 417h7v1h-7zM974 417h2v1h-2zM1249 309h2v1h-2zM1278 309h2v1h-2zM1305 309h2v1h-2zM47 371h4v1h-4zM53 371h2v1h-2zM152 371h3v1h-3zM1030 437h2v1h-2zM1072 437h2v1h-2zM1105 437h2v1h-2zM1149 437h3v1h-3zM1022 433h2v1h-2zM1081 433h5v1h-5zM1096 433h2v1h-2zM71 359h2v1h-2zM430 522h4v1h-4zM622 522h2v1h-2zM1358 278h2v1h-2zM475 542h3v1h-3zM642 514h2v1h-2zM624 521h2v1h-2zM810 423h2v1h-2zM898 423h2v1h-2zM927 423h4v1h-4zM51 372h2v1h-2zM149 372h3v1h-3zM1272 304h2v1h-2zM1311 304h2v1h-2zM1329 290h2v1h-2zM1343 284h3v1h-3zM234 197h2v1h-2zM877 416h5v1h-5zM969 416h5v1h-5zM1026 435h2v1h-2zM1076 435h2v1h-2zM1100 435h3v1h-3zM1155 435h2v1h-2zM745 428h2v1h-2zM796 428h6v1h-6zM1013 428h2v1h-2zM119 377h2v1h-2zM1325 293h2v1h-2zM1240 313h2v1h-2zM1285 313h4v1h-4zM1299 313h2v1h-2zM469 540h3v1h-3zM480 540h2v1h-2zM570 540h3v1h-3zM500 525h9v1h-9zM617 525h2v1h-2zM101 378h18v1h-18zM646 512h2v1h-2zM1242 312h3v1h-3zM1282 312h3v1h-3zM1301 312h2v1h-2zM1363 274h2v1h-2zM1024 434h2v1h-2zM1078 434h3v1h-3zM1098 434h2v1h-2zM1157 434h2v1h-2zM1332 288h2v1h-2zM1238 314h2v1h-2zM1289 314h4v1h-4zM1296 314h3v1h-3zM409 497h4v1h-4zM335 546h2v1h-2zM1334 287h3v1h-3zM900 424h3v1h-3zM922 424h5v1h-5zM1006 424h2v1h-2zM123 375h2v1h-2zM129 375h8v1h-8zM142 375h2v1h-2zM62 365h2v1h-2zM87 365h2v1h-2zM1032 438h2v1h-2zM1070 438h2v1h-2zM1107 438h2v1h-2zM1147 438h2v1h-2zM1349 282h3v1h-3zM644 513h2v1h-2zM585 533h7v1h-7zM602 533h4v1h-4zM326 538h2v1h-2zM462 538h3v1h-3zM484 538h2v1h-2zM533 538h31v1h-31zM575 538h2v1h-2zM496 528h2v1h-2zM434 523h7v1h-7zM358 578h4v1h-4zM369 578h4v1h-4zM634 517h3v1h-3zM1372 267h2v1h-2zM1180 411h2v1h-2zM654 508h2v1h-2zM1236 315h2v1h-2zM1293 315h3v1h-3zM1055 443h7v1h-7zM1125 443h5v1h-5zM1134 443h2v1h-2zM1317 299h2v1h-2zM1355 280h2v1h-2zM65 363h2v1h-2zM747 429h2v1h-2zM791 429h5v1h-5zM1340 285h3v1h-3zM44 370h3v1h-3zM155 370h3v1h-3zM8 341h2v1h-2zM1034 439h2v1h-2zM1068 439h2v1h-2zM1109 439h2v1h-2zM1144 439h3v1h-3zM717 426h15v1h-15zM740 426h2v1h-2zM806 426h2v1h-2zM908 426h6v1h-6zM1346 283h3v1h-3zM74 357h2v1h-2zM77 357h2v1h-2zM1245 311h2v1h-2zM10 340h2v1h-2zM1252 307h2v1h-2zM446 526h2v1h-2zM125 374h4v1h-4zM144 374h3v1h-3zM460 537h2v1h-2zM517 537h2v1h-2zM577 537h2v1h-2zM451 530h2v1h-2zM609 530h2v1h-2zM38 368h2v1h-2zM161 368h3v1h-3zM169 368h4v1h-4zM1247 310h2v1h-2zM33 364h2v1h-2zM40 369h4v1h-4zM56 369h2v1h-2zM158 369h3v1h-3zM1264 301h4v1h-4zM1352 281h3v1h-3zM121 376h2v1h-2zM137 376h5v1h-5zM1337 286h3v1h-3zM5 343h2v1h-2zM1176 414h2v1h-2zM639 515h3v1h-3zM611 529h2v1h-2zM631 518h3v1h-3zM1321 296h2v1h-2zM1367 271h2v1h-2zM1433 194h4v1h-4zM240 198h2v1h-2zM1424 198h2v1h-2zM3 344h2v1h-2zM147 373h2v1h-2zM1130 444h4v1h-4zM650 510h2v1h-2zM629 519h2v1h-2zM1187 406h2v1h-2zM626 520h3v1h-3zM282 416h1v3h-1zM1172 418h1v1h-1zM17 345h1v1h-1zM183 344h1v3h-1zM270 339h1v16h-1zM1225 344h1v2h-1zM230 202h1v2h-1zM244 201h1v2h-1zM1420 202h1v1h-1zM274 384h1v8h-1zM1198 388h1v1h-1zM213 265h1v3h-1zM259 263h1v5h-1zM1375 265h1v1h-1zM346 560h1v2h-1zM383 559h1v2h-1zM285 425h1v3h-1zM808 425h1v1h-1zM1166 425h1v1h-1zM349 566h1v2h-1zM380 567h1v2h-1zM300 475h1v3h-1zM678 476h1v3h-1zM286 428h1v4h-1zM705 431h1v1h-1zM1161 431h1v1h-1zM706 430h1v1h-1zM1162 429h1v2h-1zM284 422h1v3h-1zM1169 422h1v1h-1zM328 539h1v1h-1zM390 537h1v3h-1zM22 351h1v2h-1zM180 351h1v2h-1zM1221 352h1v1h-1zM200 300h1v2h-1zM264 297h1v7h-1zM1316 300h1v1h-1zM311 508h1v2h-1zM399 508h1v3h-1zM419 509h1v2h-1zM29 360h1v1h-1zM70 360h1v1h-1zM176 359h1v2h-1zM271 355h1v12h-1zM1217 359h1v2h-1zM324 536h1v1h-1zM391 534h1v3h-1zM459 536h1v1h-1zM487 536h1v1h-1zM516 536h1v1h-1zM283 419h1v3h-1zM1171 419h1v2h-1zM895 421h1v1h-1zM1170 421h1v1h-1zM321 531h1v2h-1zM392 530h1v4h-1zM454 532h1v1h-1zM492 532h1v1h-1zM513 532h1v1h-1zM212 268h1v3h-1zM260 268h1v6h-1zM1371 268h1v1h-1zM220 244h1v3h-1zM255 244h1v5h-1zM1395 243h1v2h-1zM190 325h1v3h-1zM268 322h1v6h-1zM1232 325h1v3h-1zM237 195h1v1h-1zM355 574h1v1h-1zM375 574h1v1h-1zM338 548h1v1h-1zM387 546h1v4h-1zM337 547h1v1h-1zM236 196h1v1h-1zM238 196h1v1h-1zM1427 196h1v1h-1zM201 297h1v3h-1zM1320 297h1v1h-1zM216 256h1v3h-1zM257 254h1v5h-1zM1383 257h1v1h-1zM1164 427h1v1h-1zM323 535h1v1h-1zM515 534h1v2h-1zM273 375h1v9h-1zM1202 382h1v1h-1zM314 515h1v2h-1zM397 514h1v4h-1zM425 516h1v2h-1zM319 526h1v3h-1zM393 527h1v3h-1zM448 527h1v1h-1zM498 527h1v1h-1zM509 526h1v2h-1zM228 208h1v5h-1zM246 207h1v3h-1zM1415 208h1v1h-1zM288 435h1v4h-1zM701 436h1v2h-1zM289 439h1v4h-1zM698 441h1v1h-1zM357 577h1v1h-1zM373 577h1v1h-1zM20 349h1v1h-1zM181 349h1v2h-1zM1223 348h1v2h-1zM287 432h1v3h-1zM704 432h1v2h-1zM1160 432h1v1h-1zM198 304h1v3h-1zM265 304h1v6h-1zM1254 306h1v1h-1zM1275 306h1v1h-1zM1309 306h1v1h-1zM307 496h1v3h-1zM666 496h1v2h-1zM37 367h1v1h-1zM90 367h1v1h-1zM172 367h1v1h-1zM272 367h1v8h-1zM1213 366h1v2h-1zM214 262h1v3h-1zM258 259h1v4h-1zM1378 262h1v1h-1zM229 204h1v4h-1zM245 203h1v4h-1zM1418 204h1v2h-1zM301 478h1v3h-1zM677 479h1v2h-1zM194 315h1v2h-1zM267 316h1v6h-1zM1236 316h1v1h-1zM276 398h1v3h-1zM1192 399h1v2h-1zM224 227h1v4h-1zM251 225h1v5h-1zM1404 227h1v2h-1zM381 564h1v3h-1zM699 439h1v2h-1zM293 453h1v3h-1zM690 453h1v2h-1zM310 505h1v3h-1zM400 505h1v3h-1zM417 505h1v2h-1zM657 506h1v1h-1zM210 275h1v3h-1zM261 274h1v8h-1zM1360 277h1v1h-1zM199 302h1v2h-1zM1314 302h1v1h-1zM312 510h1v2h-1zM398 511h1v3h-1zM420 511h1v1h-1zM330 541h1v1h-1zM389 540h1v3h-1zM280 410h1v3h-1zM1179 412h1v1h-1zM318 524h1v2h-1zM394 524h1v3h-1zM186 336h1v3h-1zM269 328h1v11h-1zM1228 336h1v3h-1zM697 442h1v1h-1zM279 407h1v3h-1zM231 200h1v2h-1zM243 200h1v1h-1zM1422 200h1v1h-1zM30 361h1v1h-1zM83 361h1v1h-1zM175 361h1v2h-1zM1216 361h1v1h-1zM322 533h1v2h-1zM456 534h1v1h-1zM490 534h1v1h-1zM18 346h1v2h-1zM182 347h1v2h-1zM1224 346h1v2h-1zM1173 417h1v1h-1zM332 543h1v1h-1zM388 543h1v3h-1zM196 309h1v3h-1zM94 371h1v1h-1zM1210 371h1v1h-1zM217 253h1v3h-1zM1385 255h1v1h-1zM1421 201h1v1h-1zM12 339h1v1h-1zM185 339h1v3h-1zM1227 339h1v2h-1zM19 348h1v1h-1zM340 550h1v1h-1zM386 550h1v3h-1zM306 493h1v3h-1zM669 492h1v2h-1zM247 210h1v4h-1zM1413 211h1v2h-1zM1159 433h1v1h-1zM215 259h1v3h-1zM1381 259h1v1h-1zM28 359h1v1h-1zM80 359h1v1h-1zM317 522h1v2h-1zM395 521h1v3h-1zM1414 209h1v2h-1zM209 278h1v3h-1zM277 401h1v3h-1zM1191 401h1v2h-1zM203 293h1v2h-1zM263 289h1v8h-1zM1324 294h1v1h-1zM331 542h1v1h-1zM226 217h1v5h-1zM249 217h1v4h-1zM1410 216h1v2h-1zM313 512h1v3h-1zM423 514h1v1h-1zM316 519h1v3h-1zM429 521h1v1h-1zM219 247h1v3h-1zM1392 248h1v1h-1zM189 328h1v3h-1zM1231 328h1v2h-1zM1005 423h1v1h-1zM1168 423h1v1h-1zM95 372h1v1h-1zM1209 372h1v1h-1zM1256 304h1v1h-1zM1393 246h1v2h-1zM205 288h1v3h-1zM221 240h1v4h-1zM254 239h1v5h-1zM1397 240h1v2h-1zM207 284h1v2h-1zM262 282h1v7h-1zM218 250h1v3h-1zM256 249h1v5h-1zM1390 250h1v1h-1zM667 495h1v1h-1zM308 499h1v3h-1zM403 499h1v2h-1zM413 498h1v2h-1zM664 499h1v1h-1zM239 197h1v1h-1zM1426 197h1v1h-1zM1174 416h1v1h-1zM309 502h1v3h-1zM401 503h1v2h-1zM416 504h1v1h-1zM659 504h1v1h-1zM339 549h1v1h-1zM343 555h1v2h-1zM384 556h1v3h-1zM344 557h1v2h-1zM658 505h1v1h-1zM1362 275h1v1h-1zM702 435h1v1h-1zM193 317h1v3h-1zM1235 317h1v3h-1zM707 428h1v2h-1zM1163 428h1v1h-1zM100 377h1v1h-1zM1206 376h1v2h-1zM195 312h1v3h-1zM266 310h1v6h-1zM292 450h1v3h-1zM692 450h1v2h-1zM329 540h1v1h-1zM445 525h1v1h-1zM1230 330h1v3h-1zM281 413h1v3h-1zM1178 413h1v1h-1zM227 213h1v4h-1zM1412 213h1v2h-1zM1205 378h1v1h-1zM421 512h1v1h-1zM188 331h1v2h-1zM298 469h1v3h-1zM682 468h1v2h-1zM211 271h1v4h-1zM703 434h1v1h-1zM404 497h1v2h-1zM1387 253h1v1h-1zM1199 386h1v2h-1zM206 286h1v2h-1zM809 424h1v1h-1zM1167 424h1v1h-1zM1376 264h1v1h-1zM345 559h1v1h-1zM352 570h1v2h-1zM378 570h1v2h-1zM192 320h1v3h-1zM1234 320h1v2h-1zM353 572h1v1h-1zM377 572h1v1h-1zM98 375h1v1h-1zM1207 375h1v1h-1zM35 365h1v1h-1zM173 365h1v2h-1zM1214 364h1v2h-1zM700 438h1v1h-1zM295 459h1v3h-1zM687 459h1v2h-1zM208 281h1v3h-1zM422 513h1v1h-1zM455 533h1v1h-1zM491 533h1v1h-1zM514 533h1v1h-1zM250 221h1v4h-1zM1408 220h1v2h-1zM519 538h1v1h-1zM449 528h1v1h-1zM510 528h1v1h-1zM613 528h1v1h-1zM621 523h1v1h-1zM341 551h1v2h-1zM342 553h1v2h-1zM385 553h1v3h-1zM291 446h1v4h-1zM694 446h1v2h-1zM248 214h1v3h-1zM315 517h1v2h-1zM1255 305h1v1h-1zM1274 305h1v1h-1zM1310 305h1v1h-1zM453 531h1v1h-1zM493 531h1v1h-1zM512 530h1v2h-1zM608 531h1v1h-1zM1379 261h1v1h-1zM191 323h1v2h-1zM1233 322h1v3h-1zM1361 276h1v1h-1zM31 362h1v1h-1zM67 362h1v1h-1zM84 362h1v1h-1zM1215 362h1v2h-1zM418 507h1v2h-1zM290 443h1v3h-1zM696 443h1v2h-1zM1391 249h1v1h-1zM356 575h1v2h-1zM374 575h1v2h-1zM305 490h1v3h-1zM225 222h1v5h-1zM1406 223h1v2h-1zM1419 203h1v1h-1zM23 353h1v1h-1zM179 353h1v2h-1zM1220 353h1v2h-1zM693 448h1v2h-1zM351 569h1v1h-1zM379 569h1v1h-1zM1222 350h1v2h-1zM665 498h1v1h-1zM1417 206h1v1h-1zM294 456h1v3h-1zM689 455h1v2h-1zM26 356h1v1h-1zM76 356h1v1h-1zM178 355h1v2h-1zM1219 355h1v2h-1zM197 307h1v2h-1zM1251 308h1v1h-1zM1277 308h1v1h-1zM1307 308h1v1h-1zM304 487h1v3h-1zM672 488h1v1h-1zM1357 279h1v1h-1zM297 466h1v3h-1zM683 466h1v2h-1zM296 462h1v4h-1zM685 462h1v2h-1zM32 363h1v1h-1zM85 363h1v1h-1zM174 363h1v2h-1zM1015 429h1v1h-1zM681 470h1v2h-1zM55 370h1v1h-1zM93 370h1v1h-1zM1211 369h1v2h-1zM14 341h1v2h-1zM1226 341h1v3h-1zM275 392h1v6h-1zM1193 397h1v2h-1zM202 295h1v2h-1zM1323 295h1v1h-1zM1409 218h1v2h-1zM1010 426h1v1h-1zM1165 426h1v1h-1zM1405 225h1v2h-1zM204 291h1v2h-1zM1327 292h1v1h-1zM684 464h1v2h-1zM27 357h1v2h-1zM177 357h1v2h-1zM1218 357h1v2h-1zM1388 252h1v1h-1zM1281 311h1v1h-1zM1303 311h1v1h-1zM13 340h1v1h-1zM299 472h1v3h-1zM680 472h1v2h-1zM303 484h1v3h-1zM674 485h1v2h-1zM1331 289h1v1h-1zM223 231h1v5h-1zM252 230h1v5h-1zM1402 231h1v2h-1zM73 358h1v1h-1zM79 358h1v1h-1zM1175 415h1v1h-1zM1369 270h1v1h-1zM36 366h1v1h-1zM61 366h1v1h-1zM89 366h1v1h-1zM1389 251h1v1h-1zM1276 307h1v1h-1zM1308 307h1v1h-1zM499 526h1v1h-1zM616 526h1v1h-1zM7 342h1v1h-1zM184 342h1v2h-1zM1197 389h1v2h-1zM1194 395h1v2h-1zM97 374h1v1h-1zM1208 373h1v2h-1zM325 537h1v1h-1zM486 537h1v1h-1zM320 529h1v2h-1zM494 530h1v1h-1zM1374 266h1v1h-1zM58 368h1v1h-1zM91 368h1v1h-1zM1212 368h1v1h-1zM1185 408h1v1h-1zM1394 245h1v1h-1zM1407 222h1v1h-1zM1257 303h1v1h-1zM1271 303h1v1h-1zM1313 303h1v1h-1zM1386 254h1v1h-1zM415 502h1v2h-1zM660 503h1v1h-1zM302 481h1v3h-1zM676 481h1v2h-1zM222 236h1v4h-1zM253 235h1v4h-1zM1399 237h1v2h-1zM402 501h1v2h-1zM414 500h1v2h-1zM662 501h1v1h-1zM1403 229h1v2h-1zM1396 242h1v1h-1zM1280 310h1v1h-1zM1304 310h1v1h-1zM673 487h1v1h-1zM64 364h1v1h-1zM86 364h1v1h-1zM92 369h1v1h-1zM1380 260h1v1h-1zM1260 301h1v1h-1zM1315 301h1v1h-1zM25 355h1v1h-1zM99 376h1v1h-1zM675 483h1v2h-1zM15 343h1v1h-1zM424 515h1v1h-1zM1203 381h1v1h-1zM450 529h1v1h-1zM495 529h1v1h-1zM511 529h1v1h-1zM695 445h1v1h-1zM1401 233h1v2h-1zM1195 393h1v2h-1zM396 518h1v3h-1zM426 518h1v1h-1zM1377 263h1v1h-1zM350 568h1v1h-1zM333 544h1v1h-1zM1182 410h1v1h-1zM661 502h1v1h-1zM1384 256h1v1h-1zM1196 391h1v2h-1zM1400 235h1v2h-1zM278 404h1v3h-1zM1190 403h1v2h-1zM671 489h1v2h-1zM1416 207h1v1h-1zM663 500h1v1h-1zM688 457h1v2h-1zM233 198h1v1h-1zM16 344h1v1h-1zM1370 269h1v1h-1zM96 373h1v1h-1zM1204 379h1v2h-1zM187 333h1v3h-1zM1229 333h1v3h-1zM354 573h1v1h-1zM376 573h1v1h-1zM1366 272h1v1h-1zM1186 407h1v1h-1zM679 474h1v2h-1zM21 350h1v1h-1zM1319 298h1v1h-1zM656 507h1v1h-1zM24 354h1v1h-1zM1189 405h1v1h-1zM232 199h1v1h-1zM242 199h1v1h-1zM1423 199h1v1h-1zM670 491h1v1h-1zM347 562h1v2h-1zM382 561h1v3h-1zM427 519h1v1h-1zM1411 215h1v1h-1zM1382 258h1v1h-1zM686 461h1v1h-1zM334 545h1v1h-1zM1328 291h1v1h-1zM0 346h1v1h-1zM1365 273h1v1h-1zM1398 239h1v1h-1zM1201 383h1v2h-1zM428 520h1v1h-1zM348 564h1v2h-1zM1200 385h1v1h-1zM691 452h1v1h-1zM668 494h1v1h-1z" fill="#3cb371" shape-rendering="crispEdges"/>
<g shape-rendering="crispEdges">
<rect x="4" y="246" width="1" height="27" fill="#000"/>
<rect x="2" y="250" width="5" height="17" fill="#000"/>
<rect x="3" y="251" width="3" height="15" fill="#fff"/>
<rect x="12" y="249" width="1" height="16" fill="#000"/>
<rect x="10" y="250" width="5" height="3" fill="#000"/>
<rect x="20" y="221" width="1" height="126" fill="#000"/>
<rect x="18" y="251" width="5" height="91" fill="#000"/>
<rect x="28" y="302" width="1" height="83" fill="#000"/>
<rect x="26" y="336" width="5" height="6" fill="#000"/>
<rect x="27" y="337" width="3" height="4" fill="#fff"/>
<rect x="36" y="302" width="1" height="59" fill="#000"/>
<rect x="34" y="325" width="5" height="12" fill="#000"/>
<rect x="35" y="326" width="3" height="10" fill="#fff"/>
<rect x="44" y="288" width="1" height="23" fill="#000"/>
<rect x="42" y="288" width="5" height="21" fill="#000"/>
<rect x="43" y="289" width="3" height="19" fill="#fff"/>
<rect x="52" y="276" width="1" height="35" fill="#000"/>
<rect x="50" y="292" width="5" height="3" fill="#000"/>
<rect x="60" y="268" width="1" height="27" fill="#000"/>
<rect x="58" y="276" width="5" height="19" fill="#000"/>
<rect x="59" y="277" width="3" height="17" fill="#fff"/>
<rect x="68" y="270" width="1" height="33" fill="#000"/>
<rect x="66" y="276" width="5" height="19" fill="#000"/>
<rect x="76" y="184" width="1" height="119" fill="#000"/>
<rect x="74" y="188" width="5" height="107" fill="#000"/>
<rect x="75" y="189" width="3" height="105" fill="#fff"/>
<rect x="84" y="150" width="1" height="60" fill="#000"/>
<rect x="82" y="151" width="5" height="38" fill="#000"/>
<rect x="83" y="152" width="3" height="36" fill="#fff"/>
<rect x="92" y="150" width="1" height="29" fill="#000"/>
<rect x="90" y="151" width="5" height="28" fill="#000"/>
<rect x="100" y="118" width="1" height="71" fill="#000"/>
<rect x="98" y="128" width="5" height="50" fill="#000"/>
<rect x="99" y="129" width="3" height="48" fill="#fff"/>
<rect x="108" y="116" width="1" height="114" fill="#000"/>
<rect x="106" y="128" width="5" height="67" fill="#000"/>
<rect x="116" y="140" width="1" height="85" fill="#000"/>
<rect x="114" y="148" width="5" height="47" fill="#000"/>
<rect x="115" y="149" width="3" height="45" fill="#fff"/>
<rect x="124" y="125" width="1" height="47" fill="#000"/>
<rect x="122" y="146" width="5" height="4" fill="#000"/>
<rect x="123" y="147" width="3" height="2" fill="#fff"/>
<rect x="132" y="127" width="1" height="34" fill="#000"/>
<rect x="130" y="128" width="5" height="20" fill="#000"/>
<rect x="131" y="129" width="3" height="18" fill="#fff"/>
<rect x="140" y="100" width="1" height="37" fill="#000"/>
<rect x="138" y="118" width="5" height="12" fill="#000"/>
<rect x="139" y="119" width="3" height="10" fill="#fff"/>
<rect x="148" y="100" width="1" height="43" fill="#000"/>
<rect x="146" y="118" width="5" height="14" fill="#000"/>
<rect x="156" y="129" width="1" height="39" fill="#000"/>
<rect x="154" y="130" width="5" height="32" fill="#000"/>
<rect x="164" y="122" width="1" height="52" fill="#000"/>
<rect x="162" y="142" width="5" height="19" fill="#000"/>
<rect x="163" y="143" width="3" height="17" fill="#fff"/>
<rect x="172" y="95" width="1" height="52" fill="#000"/>
<rect x="170" y="99" width="5" height="44" fill="#000"/>
<rect x="171" y="100" width="3" height="42" fill="#fff"/>
<rect x="180" y="80" width="1" height="21" fill="#000"/>
<rect x="178" y="85" width="5" height="15" fill="#000"/>
<rect x="188" y="80" width="1" height="16" fill="#000"/>
<rect x="186" y="84" width="5" height="7" fill="#000"/>
<rect x="187" y="85" width="3" height="5" fill="#fff"/>
<rect x="196" y="78" width="1" height="15" fill="#000"/>
<rect x="194" y="82" width="5" height="7" fill="#000"/>
<rect x="204" y="76" width="1" height="15" fill="#000"/>
<rect x="202" y="80" width="5" height="7" fill="#000"/>
<rect x="203" y="81" width="3" height="5" fill="#fff"/>
<rect x="212" y="76" width="1" height="15" fill="#000"/>
<rect x="210" y="77" width="5" height="8" fill="#000"/>
<rect x="220" y="75" width="1" height="27" fill="#000"/>
<rect x="218" y="80" width="5" height="6" fill="#000"/>
<rect x="219" y="81" width="3" height="4" fill="#fff"/>
<rect x="228" y="75" width="1" height="12" fill="#000"/>
<rect x="226" y="78" width="5" height="2" fill="#000"/>
<rect x="236" y="77" width="1" height="61" fill="#000"/>
<rect x="234" y="78" width="5" height="53" fill="#000"/>
<rect x="244" y="122" width="1" height="91" fill="#000"/>
<rect x="242" y="129" width="5" height="68" fill="#000"/>
<rect x="252" y="179" width="1" height="111" fill="#000"/>
<rect x="250" y="195" width="5" height="92" fill="#000"/>
<rect x="260" y="242" width="1" height="131" fill="#000"/>
<rect x="258" y="286" width="5" height="44" fill="#000"/>
<rect x="268" y="278" width="1" height="199" fill="#000"/>
<rect x="266" y="329" width="5" height="126" fill="#000"/>
<rect x="276" y="388" width="1" height="89" fill="#000"/>
<rect x="274" y="454" width="5" height="4" fill="#000"/>
<rect x="284" y="336" width="1" height="83" fill="#000"/>
<rect x="282" y="362" width="5" height="38" fill="#000"/>
<rect x="283" y="363" width="3" height="36" fill="#fff"/>
<rect x="292" y="334" width="1" height="77" fill="#000"/>
<rect x="290" y="358" width="5" height="12" fill="#000"/>
<rect x="300" y="357" width="1" height="128" fill="#000"/>
<rect x="298" y="368" width="5" height="18" fill="#000"/>
<rect x="308" y="376" width="1" height="69" fill="#000"/>
<rect x="306" y="385" width="5" height="24" fill="#000"/>
<rect x="316" y="320" width="1" height="96" fill="#000"/>
<rect x="314" y="378" width="5" height="31" fill="#000"/>
<rect x="315" y="379" width="3" height="29" fill="#fff"/>
<rect x="324" y="342" width="1" height="40" fill="#000"/>
<rect x="322" y="362" width="5" height="18" fill="#000"/>
<rect x="323" y="363" width="3" height="16" fill="#fff"/>
<rect x="332" y="340" width="1" height="57" fill="#000"/>
<rect x="330" y="347" width="5" height="18" fill="#000"/>
<rect x="331" y="348" width="3" height="16" fill="#fff"/>
<rect x="340" y="332" width="1" height="48" fill="#000"/>
<rect x="338" y="348" width="5" height="25" fill="#000"/>
<rect x="348" y="370" width="1" height="124" fill="#000"/>
<rect x="346" y="371" width="5" height="84" fill="#000"/>
<rect x="356" y="451" width="1" height="88" fill="#000"/>
<rect x="354" y="454" width="5" height="19" fill="#000"/>
<rect x="364" y="381" width="1" height="185" fill="#000"/>
<rect x="362" y="394" width="5" height="79" fill="#000"/>
<rect x="363" y="395" width="3" height="77" fill="#fff"/>
<rect x="372" y="364" width="1" height="123" fill="#000"/>
<rect x="370" y="394" width="5" height="74" fill="#000"/>
<rect x="380" y="428" width="1" height="58" fill="#000"/>
<rect x="378" y="432" width="5" height="36" fill="#000"/>
<rect x="379" y="433" width="3" height="34" fill="#fff"/>
<rect x="388" y="390" width="1" height="79" fill="#000"/>
<rect x="386" y="412" width="5" height="24" fill="#000"/>
<rect x="387" y="413" width="3" height="22" fill="#fff"/>
<rect x="396" y="377" width="1" height="44" fill="#000"/>
<rect x="394" y="411" width="5" height="2" fill="#000"/>
<rect x="404" y="383" width="1" height="54" fill="#000"/>
<rect x="402" y="412" width="5" height="9" fill="#000"/>
<rect x="412" y="412" width="1" height="117" fill="#000"/>
<rect x="410" y="419" width="5" height="71" fill="#000"/>
<rect x="420" y="469" width="1" height="74" fill="#000"/>
<rect x="418" y="487" width="5" height="36" fill="#000"/>
<rect x="428" y="497" width="1" height="32" fill="#000"/>
<rect x="426" y="504" width="5" height="17" fill="#000"/>
<rect x="427" y="505" width="3" height="15" fill="#fff"/>
<rect x="436" y="468" width="1" height="49" fill="#000"/>
<rect x="434" y="474" width="5" height="33" fill="#000"/>
<rect x="435" y="475" width="3" height="31" fill="#fff"/>
<rect x="444" y="427" width="1" height="62" fill="#000"/>
<rect x="442" y="437" width="5" height="39" fill="#000"/>
<rect x="443" y="438" width="3" height="37" fill="#fff"/>
<rect x="452" y="433" width="1" height="73" fill="#000"/>
<rect x="450" y="437" width="5" height="61" fill="#000"/>
<rect x="460" y="484" width="1" height="52" fill="#000"/>
<rect x="458" y="490" width="5" height="7" fill="#000"/>
<rect x="459" y="491" width="3" height="5" fill="#fff"/>
<rect x="468" y="444" width="1" height="54" fill="#000"/>
<rect x="466" y="455" width="5" height="38" fill="#000"/>
<rect x="467" y="456" width="3" height="36" fill="#fff"/>
<rect x="476" y="446" width="1" height="40" fill="#000"/>
<rect x="474" y="455" width="5" height="27" fill="#000"/>
<rect x="484" y="448" width="1" height="45" fill="#000"/>
<rect x="482" y="452" width="5" height="32" fill="#000"/>
<rect x="483" y="453" width="3" height="30" fill="#fff"/>
<rect x="492" y="415" width="1" height="48" fill="#000"/>
<rect x="490" y="419" width="5" height="35" fill="#000"/>
<rect x="491" y="420" width="3" height="33" fill="#fff"/>
<rect x="500" y="402" width="1" height="46" fill="#000"/>
<rect x="498" y="419" width="5" height="10" fill="#000"/>
<rect x="508" y="380" width="1" height="107" fill="#000"/>
<rect x="506" y="427" width="5" height="21" fill="#000"/>
<rect x="516" y="442" width="1" height="120" fill="#000"/>
<rect x="514" y="446" width="5" height="105" fill="#000"/>
<rect x="524" y="472" width="1" height="35" fill="#000"/>
<rect x="522" y="478" width="5" height="29" fill="#000"/>
<rect x="523" y="479" width="3" height="27" fill="#fff"/>
<rect x="532" y="472" width="1" height="39" fill="#000"/>
<rect x="530" y="478" width="5" height="8" fill="#000"/>
<rect x="540" y="452" width="1" height="37" fill="#000"/>
<rect x="538" y="460" width="5" height="26" fill="#000"/>
<rect x="539" y="461" width="3" height="24" fill="#fff"/>
<rect x="548" y="420" width="1" height="47" fill="#000"/>
<rect x="546" y="449" width="5" height="12" fill="#000"/>
<rect x="547" y="450" width="3" height="10" fill="#fff"/>
<rect x="556" y="402" width="1" height="72" fill="#000"/>
<rect x="554" y="408" width="5" height="41" fill="#000"/>
<rect x="555" y="409" width="3" height="39" fill="#fff"/>
<rect x="564" y="389" width="1" height="46" fill="#000"/>
<rect x="562" y="400" width="5" height="8" fill="#000"/>
<rect x="563" y="401" width="3" height="6" fill="#fff"/>
<rect x="572" y="396" width="1" height="15" fill="#000"/>
<rect x="570" y="399" width="5" height="7" fill="#000"/>
<rect x="580" y="384" width="1" height="33" fill="#000"/>
<rect x="578" y="390" width="5" height="16" fill="#000"/>
<rect x="579" y="391" width="3" height="14" fill="#fff"/>
<rect x="588" y="357" width="1" height="34" fill="#000"/>
<rect x="586" y="375" width="5" height="16" fill="#000"/>
<rect x="587" y="376" width="3" height="14" fill="#fff"/>
<rect x="596" y="357" width="1" height="42" fill="#000"/>
<rect x="594" y="375" width="5" height="15" fill="#000"/>
<rect x="604" y="351" width="1" height="57" fill="#000"/>
<rect x="602" y="372" width="5" height="19" fill="#000"/>
<rect x="603" y="373" width="3" height="17" fill="#fff"/>
<rect x="612" y="358" width="1" height="36" fill="#000"/>
<rect x="610" y="372" width="5" height="5" fill="#000"/>
<rect x="620" y="374" width="1" height="32" fill="#000"/>
<rect x="618" y="377" width="5" height="19" fill="#000"/>
<rect x="628" y="386" width="1" height="39" fill="#000"/>
<rect x="626" y="394" width="5" height="10" fill="#000"/>
<rect x="636" y="392" width="1" height="38" fill="#000"/>
<rect x="634" y="403" width="5" height="12" fill="#000"/>
<rect x="644" y="348" width="1" height="85" fill="#000"/>
<rect x="642" y="367" width="5" height="48" fill="#000"/>
<rect x="643" y="368" width="3" height="46" fill="#fff"/>
<rect x="652" y="321" width="1" height="52" fill="#000"/>
<rect x="650" y="334" width="5" height="33" fill="#000"/>
<rect x="651" y="335" width="3" height="31" fill="#fff"/>
<rect x="660" y="326" width="1" height="57" fill="#000"/>
<rect x="658" y="334" width="5" height="38" fill="#000"/>
<rect x="668" y="358" width="1" height="22" fill="#000"/>
<rect x="666" y="368" width="5" height="3" fill="#000"/>
<rect x="667" y="369" width="3" height="1" fill="#fff"/>
<rect x="676" y="345" width="1" height="30" fill="#000"/>
<rect x="674" y="364" width="5" height="8" fill="#000"/>
<rect x="684" y="366" width="1" height="41" fill="#000"/>
<rect x="682" y="371" width="5" height="31" fill="#000"/>
<rect x="692" y="384" width="1" height="41" fill="#000"/>
<rect x="690" y="400" width="5" height="1" fill="#000"/>
<rect x="700" y="390" width="1" height="49" fill="#000"/>
<rect x="698" y="399" width="5" height="12" fill="#000"/>
<rect x="708" y="372" width="1" height="43" fill="#000"/>
<rect x="706" y="404" width="5" height="6" fill="#000"/>
<rect x="707" y="405" width="3" height="4" fill="#fff"/>
<rect x="716" y="401" width="1" height="20" fill="#000"/>
<rect x="714" y="404" width="5" height="7" fill="#000"/>
<rect x="724" y="386" width="1" height="43" fill="#000"/>
<rect x="722" y="394" width="5" height="17" fill="#000"/>
<rect x="723" y="395" width="3" height="15" fill="#fff"/>
<rect x="732" y="378" width="1" height="35" fill="#000"/>
<rect x="730" y="386" width="5" height="8" fill="#000"/>
<rect x="731" y="387" width="3" height="6" fill="#fff"/>
<rect x="740" y="349" width="1" height="42" fill="#000"/>
<rect x="738" y="354" width="5" height="31" fill="#000"/>
<rect x="739" y="355" width="3" height="29" fill="#fff"/>
<rect x="748" y="351" width="1" height="86" fill="#000"/>
<rect x="746" y="354" width="5" height="59" fill="#000"/>
<rect x="756" y="404" width="1" height="44" fill="#000"/>
<rect x="754" y="412" width="5" height="2" fill="#000"/>
<rect x="764" y="397" width="1" height="20" fill="#000"/>
<rect x="762" y="397" width="5" height="14" fill="#000"/>
<rect x="763" y="398" width="3" height="12" fill="#fff"/>
<rect x="772" y="386" width="1" height="17" fill="#000"/>
<rect x="770" y="391" width="5" height="7" fill="#000"/>
<rect x="771" y="392" width="3" height="5" fill="#fff"/>
<rect x="780" y="383" width="1" height="27" fill="#000"/>
<rect x="778" y="390" width="5" height="3" fill="#000"/>
<rect x="788" y="360" width="1" height="34" fill="#000"/>
<rect x="786" y="376" width="5" height="17" fill="#000"/>
<rect x="787" y="377" width="3" height="15" fill="#fff"/>
<rect x="796" y="368" width="1" height="41" fill="#000"/>
<rect x="794" y="376" width="5" height="12" fill="#000"/>
<rect x="804" y="382" width="1" height="40" fill="#000"/>
<rect x="802" y="388" width="5" height="7" fill="#000"/>
<rect x="812" y="380" width="1" height="22" fill="#000"/>
<rect x="810" y="386" width="5" height="9" fill="#000"/>
<rect x="811" y="387" width="3" height="7" fill="#fff"/>
<rect x="820" y="370" width="1" height="35" fill="#000"/>
<rect x="818" y="382" width="5" height="5" fill="#000"/>
<rect x="819" y="383" width="3" height="3" fill="#fff"/>
<rect x="828" y="358" width="1" height="35" fill="#000"/>
<rect x="826" y="364" width="5" height="17" fill="#000"/>
<rect x="827" y="365" width="3" height="15" fill="#fff"/>
<rect x="836" y="355" width="1" height="50" fill="#000"/>
<rect x="834" y="362" width="5" height="31" fill="#000"/>
<rect x="844" y="358" width="1" height="55" fill="#000"/>
<rect x="842" y="362" width="5" height="31" fill="#000"/>
<rect x="843" y="363" width="3" height="29" fill="#fff"/>
<rect x="852" y="356" width="1" height="27" fill="#000"/>
<rect x="850" y="358" width="5" height="3" fill="#000"/>
<rect x="851" y="359" width="3" height="1" fill="#fff"/>
<rect x="860" y="354" width="1" height="37" fill="#000"/>
<rect x="858" y="357" width="5" height="2" fill="#000"/>
<rect x="868" y="347" width="1" height="23" fill="#000"/>
<rect x="866" y="352" width="5" height="7" fill="#000"/>
<rect x="867" y="353" width="3" height="5" fill="#fff"/>
<rect x="876" y="352" width="1" height="26" fill="#000"/>
<rect x="874" y="352" width="5" height="9" fill="#000"/>
<rect x="884" y="341" width="1" height="32" fill="#000"/>
<rect x="882" y="348" width="5" height="13" fill="#000"/>
<rect x="883" y="349" width="3" height="11" fill="#fff"/>
<rect x="892" y="330" width="1" height="28" fill="#000"/>
<rect x="890" y="341" width="5" height="8" fill="#000"/>
<rect x="891" y="342" width="3" height="6" fill="#fff"/>
<rect x="900" y="268" width="1" height="85" fill="#000"/>
<rect x="898" y="310" width="5" height="31" fill="#000"/>
<rect x="899" y="311" width="3" height="29" fill="#fff"/>
<rect x="908" y="282" width="1" height="41" fill="#000"/>
<rect x="906" y="289" width="5" height="22" fill="#000"/>
<rect x="907" y="290" width="3" height="20" fill="#fff"/>
<rect x="916" y="270" width="1" height="39" fill="#000"/>
<rect x="914" y="290" width="5" height="1" fill="#000"/>
<rect x="924" y="276" width="1" height="32" fill="#000"/>
<rect x="922" y="290" width="5" height="5" fill="#000"/>
<rect x="932" y="280" width="1" height="26" fill="#000"/>
<rect x="930" y="283" width="5" height="12" fill="#000"/>
<rect x="931" y="284" width="3" height="10" fill="#fff"/>
<rect x="940" y="279" width="1" height="111" fill="#000"/>
<rect x="938" y="283" width="5" height="75" fill="#000"/>
<rect x="948" y="355" width="1" height="31" fill="#000"/>
<rect x="946" y="356" width="5" height="27" fill="#000"/>
<rect x="956" y="358" width="1" height="31" fill="#000"/>
<rect x="954" y="371" width="5" height="12" fill="#000"/>
<rect x="955" y="372" width="3" height="10" fill="#fff"/>
<rect x="964" y="338" width="1" height="66" fill="#000"/>
<rect x="962" y="371" width="5" height="26" fill="#000"/>
<rect x="972" y="369" width="1" height="41" fill="#000"/>
<rect x="970" y="371" width="5" height="24" fill="#000"/>
<rect x="971" y="372" width="3" height="22" fill="#fff"/>
<rect x="980" y="365" width="1" height="48" fill="#000"/>
<rect x="978" y="371" width="5" height="34" fill="#000"/>
<rect x="988" y="374" width="1" height="87" fill="#000"/>
<rect x="986" y="377" width="5" height="28" fill="#000"/>
<rect x="987" y="378" width="3" height="26" fill="#fff"/>
<rect x="996" y="354" width="1" height="40" fill="#000"/>
<rect x="994" y="366" width="5" height="11" fill="#000"/>
<rect x="995" y="367" width="3" height="9" fill="#fff"/>
<rect x="1004" y="365" width="1" height="33" fill="#000"/>
<rect x="1002" y="366" width="5" height="31" fill="#000"/>
<rect x="1012" y="363" width="1" height="43" fill="#000"/>
<rect x="1010" y="396" width="5" height="3" fill="#000"/>
<rect x="1020" y="392" width="1" height="35" fill="#000"/>
<rect x="1018" y="398" width="5" height="10" fill="#000"/>
<rect x="1028" y="366" width="1" height="57" fill="#000"/>
<rect x="1026" y="368" width="5" height="40" fill="#000"/>
<rect x="1027" y="369" width="3" height="38" fill="#fff"/>
<rect x="1036" y="366" width="1" height="56" fill="#000"/>
<rect x="1034" y="366" width="5" height="50" fill="#000"/>
<rect x="1044" y="362" width="1" height="68" fill="#000"/>
<rect x="1042" y="362" width="5" height="55" fill="#000"/>
<rect x="1043" y="363" width="3" height="53" fill="#fff"/>
<rect x="1052" y="359" width="1" height="36" fill="#000"/>
<rect x="1050" y="362" width="5" height="10" fill="#000"/>
<rect x="1060" y="363" width="1" height="28" fill="#000"/>
<rect x="1058" y="370" width="5" height="3" fill="#000"/>
<rect x="1068" y="351" width="1" height="27" fill="#000"/>
<rect x="1066" y="370" width="5" height="3" fill="#000"/>
<rect x="1076" y="360" width="1" height="31" fill="#000"/>
<rect x="1074" y="366" width="5" height="7" fill="#000"/>
<rect x="1075" y="367" width="3" height="5" fill="#fff"/>
<rect x="1084" y="297" width="1" height="75" fill="#000"/>
<rect x="1082" y="298" width="5" height="67" fill="#000"/>
<rect x="1083" y="299" width="3" height="65" fill="#fff"/>
<rect x="1092" y="275" width="1" height="28" fill="#000"/>
<rect x="1090" y="295" width="5" height="6" fill="#000"/>
<rect x="1091" y="296" width="3" height="4" fill="#fff"/>
<rect x="1100" y="293" width="1" height="30" fill="#000"/>
<rect x="1098" y="294" width="5" height="21" fill="#000"/>
<rect x="1108" y="283" width="1" height="33" fill="#000"/>
<rect x="1106" y="293" width="5" height="20" fill="#000"/>
<rect x="1107" y="294" width="3" height="18" fill="#fff"/>
<rect x="1116" y="280" width="1" height="21" fill="#000"/>
<rect x="1114" y="288" width="5" height="6" fill="#000"/>
<rect x="1115" y="289" width="3" height="4" fill="#fff"/>
<rect x="1124" y="256" width="1" height="35" fill="#000"/>
<rect x="1122" y="276" width="5" height="13" fill="#000"/>
<rect x="1123" y="277" width="3" height="11" fill="#fff"/>
<rect x="1132" y="250" width="1" height="44" fill="#000"/>
<rect x="1130" y="260" width="5" height="17" fill="#000"/>
<rect x="1131" y="261" width="3" height="15" fill="#fff"/>
<rect x="1140" y="258" width="1" height="30" fill="#000"/>
<rect x="1138" y="260" width="5" height="24" fill="#000"/>
<rect x="1148" y="283" width="1" height="19" fill="#000"/>
<rect x="1146" y="283" width="5" height="9" fill="#000"/>
<rect x="1156" y="277" width="1" height="20" fill="#000"/>
<rect x="1154" y="290" width="5" height="4" fill="#000"/>
<rect x="1164" y="264" width="1" height="32" fill="#000"/>
<rect x="1162" y="270" width="5" height="23" fill="#000"/>
<rect x="1163" y="271" width="3" height="21" fill="#fff"/>
<rect x="1172" y="255" width="1" height="17" fill="#000"/>
<rect x="1170" y="264" width="5" height="7" fill="#000"/>
<rect x="1171" y="265" width="3" height="5" fill="#fff"/>
<rect x="1180" y="236" width="1" height="36" fill="#000"/>
<rect x="1178" y="246" width="5" height="19" fill="#000"/>
<rect x="1179" y="247" width="3" height="17" fill="#fff"/>
<rect x="1188" y="233" width="1" height="24" fill="#000"/>
<rect x="1186" y="238" width="5" height="7" fill="#000"/>
<rect x="1187" y="239" width="3" height="5" fill="#fff"/>
<rect x="1196" y="232" width="1" height="21" fill="#000"/>
<rect x="1194" y="234" width="5" height="5" fill="#000"/>
<rect x="1195" y="235" width="3" height="3" fill="#fff"/>
<rect x="1204" y="224" width="1" height="36" fill="#000"/>
<rect x="1202" y="234" width="5" height="25" fill="#000"/>
<rect x="1212" y="236" width="1" height="29" fill="#000"/>
<rect x="1210" y="250" width="5" height="9" fill="#000"/>
<rect x="1211" y="251" width="3" height="7" fill="#fff"/>
<rect x="1220" y="242" width="1" height="15" fill="#000"/>
<rect x="1218" y="248" width="5" height="3" fill="#000"/>
<rect x="1219" y="249" width="3" height="1" fill="#fff"/>
<rect x="1228" y="243" width="1" height="9" fill="#000"/>
<rect x="1226" y="246" width="5" height="2" fill="#000"/>
<rect x="1236" y="246" width="1" height="16" fill="#000"/>
<rect x="1234" y="247" width="5" height="10" fill="#000"/>
<rect x="1244" y="245" width="1" height="16" fill="#000"/>
<rect x="1242" y="248" width="5" height="7" fill="#000"/>
<rect x="1252" y="240" width="1" height="21" fill="#000"/>
<rect x="1250" y="240" width="5" height="14" fill="#000"/>
<rect x="1251" y="241" width="3" height="12" fill="#fff"/>
<rect x="1260" y="232" width="1" height="13" fill="#000"/>
<rect x="1258" y="234" width="5" height="7" fill="#000"/>
<rect x="1259" y="235" width="3" height="5" fill="#fff"/>
<rect x="1268" y="194" width="1" height="42" fill="#000"/>
<rect x="1266" y="200" width="5" height="33" fill="#000"/>
<rect x="1267" y="201" width="3" height="31" fill="#fff"/>
<rect x="1276" y="160" width="1" height="42" fill="#000"/>
<rect x="1274" y="162" width="5" height="39" fill="#000"/>
<rect x="1275" y="163" width="3" height="37" fill="#fff"/>
<rect x="1284" y="157" width="1" height="16" fill="#000"/>
<rect x="1282" y="158" width="5" height="5" fill="#000"/>
<rect x="1283" y="159" width="3" height="3" fill="#fff"/>
<rect x="1292" y="158" width="1" height="21" fill="#000"/>
<rect x="1290" y="158" width="5" height="21" fill="#000"/>
<rect x="1300" y="150" width="1" height="35" fill="#000"/>
<rect x="1298" y="161" width="5" height="18" fill="#000"/>
<rect x="1299" y="162" width="3" height="16" fill="#fff"/>
<rect x="1308" y="157" width="1" height="20" fill="#000"/>
<rect x="1306" y="161" width="5" height="9" fill="#000"/>
<rect x="1316" y="162" width="1" height="25" fill="#000"/>
<rect x="1314" y="168" width="5" height="2" fill="#000"/>
<rect x="1324" y="160" width="1" height="34" fill="#000"/>
<rect x="1322" y="168" width="5" height="16" fill="#000"/>
<rect x="1332" y="169" width="1" height="25" fill="#000"/>
<rect x="1330" y="171" width="5" height="13" fill="#000"/>
<rect x="1331" y="172" width="3" height="11" fill="#fff"/>
<rect x="1340" y="171" width="1" height="17" fill="#000"/>
<rect x="1338" y="172" width="5" height="11" fill="#000"/>
<rect x="1348" y="167" width="1" height="20" fill="#000"/>
<rect x="1346" y="171" width="5" height="11" fill="#000"/>
<rect x="1347" y="172" width="3" height="9" fill="#fff"/>
<rect x="1356" y="155" width="1" height="19" fill="#000"/>
<rect x="1354" y="161" width="5" height="12" fill="#000"/>
<rect x="1355" y="162" width="3" height="10" fill="#fff"/>
<rect x="1364" y="135" width="1" height="38" fill="#000"/>
<rect x="1362" y="160" width="5" height="3" fill="#000"/>
<rect x="1372" y="139" width="1" height="61" fill="#000"/>
<rect x="1370" y="153" width="5" height="10" fill="#000"/>
<rect x="1371" y="154" width="3" height="8" fill="#fff"/>
<rect x="1380" y="141" width="1" height="21" fill="#000"/>
<rect x="1378" y="150" width="5" height="4" fill="#000"/>
<rect x="1379" y="151" width="3" height="2" fill="#fff"/>
<rect x="1388" y="142" width="1" height="13" fill="#000"/>
<rect x="1386" y="150" width="5" height="4" fill="#000"/>
<rect x="1387" y="151" width="3" height="2" fill="#fff"/>
<rect x="1396" y="132" width="1" height="19" fill="#000"/>
<rect x="1394" y="134" width="5" height="17" fill="#000"/>
<rect x="1395" y="135" width="3" height="15" fill="#fff"/>
<rect x="1404" y="106" width="1" height="33" fill="#000"/>
<rect x="1402" y="121" width="5" height="14" fill="#000"/>
<rect x="1403" y="122" width="3" height="12" fill="#fff"/>
<rect x="1412" y="107" width="1" height="18" fill="#000"/>
<rect x="1410" y="122" width="5" height="3" fill="#000"/>
<rect x="1420" y="108" width="1" height="32" fill="#000"/>
<rect x="1418" y="116" width="5" height="9" fill="#000"/>
<rect x="1419" y="117" width="3" height="7" fill="#fff"/>
<rect x="1428" y="107" width="1" height="26" fill="#000"/>
<rect x="1426" y="116" width="5" height="17" fill="#000"/>
<rect x="1436" y="127" width="1" height="13" fill="#000"/>
<rect x="1434" y="131" width="5" height="9" fill="#000"/>
</g>
<rect x="1312" y="150" width="174" height="5" fill="#00ff00" shape-rendering="crispEdges"/>
<rect x="445.5" y="552.5" width="61" height="18" fill="#fff" stroke="#ff0000" stroke-width="1" shape-rendering="crispEdges"/>
<text x="476.0" y="567.5" font-size="16.7" fill="#ff0000" stroke="#ff0000" stroke-width="0.25" text-anchor="middle" textLength="57" lengthAdjust="spacingAndGlyphs">112.545</text>
<rect x="507" y="561" width="9" height="1" fill="#ff0000" shape-rendering="crispEdges"/>
<rect x="829.5" y="259.5" width="61" height="18" fill="#fff" stroke="#ff0000" stroke-width="1" shape-rendering="crispEdges"/>
<text x="860.0" y="274.5" font-size="16.7" fill="#ff0000" stroke="#ff0000" stroke-width="0.25" text-anchor="middle" textLength="57" lengthAdjust="spacingAndGlyphs">114.254</text>
<rect x="891" y="268" width="9" height="1" fill="#ff0000" shape-rendering="crispEdges"/>
<rect x="917.5" y="451.5" width="61" height="18" fill="#fff" stroke="#ff0000" stroke-width="1" shape-rendering="crispEdges"/>
<text x="948.0" y="466.5" font-size="16.7" fill="#ff0000" stroke="#ff0000" stroke-width="0.25" text-anchor="middle" textLength="57" lengthAdjust="spacingAndGlyphs">113.140</text>
<rect x="979" y="460" width="9" height="1" fill="#ff0000" shape-rendering="crispEdges"/>
<rect x="1333.5" y="97.5" width="61" height="18" fill="#fff" stroke="#ff0000" stroke-width="1" shape-rendering="crispEdges"/>
<text x="1364.0" y="112.5" font-size="16.7" fill="#ff0000" stroke="#ff0000" stroke-width="0.25" text-anchor="middle" textLength="57" lengthAdjust="spacingAndGlyphs">115.199</text>
<rect x="1395" y="106" width="9" height="1" fill="#ff0000" shape-rendering="crispEdges"/>
<rect x="1395.5" y="104.5" width="2" height="3" fill="#fff" stroke="#ff0000" shape-rendering="crispEdges"/>
<rect x="1165" y="157" width="10" height="1" fill="#ff0000" shape-rendering="crispEdges"/>
<rect x="1175.5" y="145.5" width="73" height="24" fill="#fff" stroke="#ff0000" stroke-width="1" shape-rendering="crispEdges"/>
<text x="1212.0" y="165.7" font-size="22.6" fill="#ff0000" stroke="#ff0000" stroke-width="0.45" text-anchor="middle" textLength="68.5" lengthAdjust="spacingAndGlyphs">114.902</text>
<polygon points="1441.5,27 1451.5,27 1446.5,32.2" fill="#c0c0c0"/>
<g shape-rendering="crispEdges">
<rect x="4" y="643" width="1" height="13" fill="#c0c0c0"/>
<rect x="12" y="643" width="1" height="13" fill="#c0c0c0"/>
<rect x="20" y="653" width="1" height="3" fill="#c0c0c0"/>
<rect x="28" y="655" width="1" height="4" fill="#c0c0c0"/>
<rect x="36" y="655" width="1" height="9" fill="#c0c0c0"/>
<rect x="44" y="655" width="1" height="8" fill="#c0c0c0"/>
<rect x="52" y="655" width="1" height="8" fill="#c0c0c0"/>
<rect x="60" y="655" width="1" height="6" fill="#c0c0c0"/>
<rect x="68" y="655" width="1" height="6" fill="#c0c0c0"/>
<rect x="76" y="650" width="1" height="6" fill="#c0c0c0"/>
<rect x="84" y="638" width="1" height="18" fill="#c0c0c0"/>
<rect x="92" y="631" width="1" height="25" fill="#c0c0c0"/>
<rect x="100" y="621" width="1" height="35" fill="#c0c0c0"/>
<rect x="108" y="620" width="1" height="36" fill="#c0c0c0"/>
<rect x="116" y="615" width="1" height="41" fill="#c0c0c0"/>
<rect x="124" y="611" width="1" height="45" fill="#c0c0c0"/>
<rect x="132" y="607" width="1" height="49" fill="#c0c0c0"/>
<rect x="140" y="603" width="1" height="53" fill="#c0c0c0"/>
<rect x="148" y="602" width="1" height="54" fill="#c0c0c0"/>
<rect x="156" y="605" width="1" height="51" fill="#c0c0c0"/>
<rect x="164" y="606" width="1" height="50" fill="#c0c0c0"/>
<rect x="172" y="599" width="1" height="57" fill="#c0c0c0"/>
<rect x="180" y="594" width="1" height="62" fill="#c0c0c0"/>
<rect x="188" y="591" width="1" height="65" fill="#c0c0c0"/>
<rect x="196" y="591" width="1" height="65" fill="#c0c0c0"/>
<rect x="204" y="591" width="1" height="65" fill="#c0c0c0"/>
<rect x="212" y="593" width="1" height="63" fill="#c0c0c0"/>
<rect x="220" y="594" width="1" height="62" fill="#c0c0c0"/>
<rect x="228" y="597" width="1" height="59" fill="#c0c0c0"/>
<rect x="236" y="604" width="1" height="52" fill="#c0c0c0"/>
<rect x="244" y="618" width="1" height="38" fill="#c0c0c0"/>
<rect x="252" y="639" width="1" height="17" fill="#c0c0c0"/>
<rect x="260" y="655" width="1" height="4" fill="#c0c0c0"/>
<rect x="268" y="655" width="1" height="35" fill="#c0c0c0"/>
<rect x="276" y="655" width="1" height="58" fill="#c0c0c0"/>
<rect x="284" y="655" width="1" height="66" fill="#c0c0c0"/>
<rect x="292" y="655" width="1" height="72" fill="#c0c0c0"/>
<rect x="300" y="655" width="1" height="77" fill="#c0c0c0"/>
<rect x="308" y="655" width="1" height="83" fill="#c0c0c0"/>
<rect x="316" y="655" width="1" height="84" fill="#c0c0c0"/>
<rect x="324" y="655" width="1" height="82" fill="#c0c0c0"/>
<rect x="332" y="655" width="1" height="77" fill="#c0c0c0"/>
<rect x="340" y="655" width="1" height="75" fill="#c0c0c0"/>
<rect x="348" y="655" width="1" height="80" fill="#c0c0c0"/>
<rect x="356" y="655" width="1" height="89" fill="#c0c0c0"/>
<rect x="364" y="655" width="1" height="84" fill="#c0c0c0"/>
<rect x="372" y="655" width="1" height="88" fill="#c0c0c0"/>
<rect x="380" y="655" width="1" height="86" fill="#c0c0c0"/>
<rect x="388" y="655" width="1" height="82" fill="#c0c0c0"/>
<rect x="396" y="655" width="1" height="76" fill="#c0c0c0"/>
<rect x="404" y="655" width="1" height="73" fill="#c0c0c0"/>
<rect x="412" y="655" width="1" height="76" fill="#c0c0c0"/>
<rect x="420" y="655" width="1" height="82" fill="#c0c0c0"/>
<rect x="428" y="655" width="1" height="84" fill="#c0c0c0"/>
<rect x="436" y="655" width="1" height="81" fill="#c0c0c0"/>
<rect x="444" y="655" width="1" height="74" fill="#c0c0c0"/>
<rect x="452" y="655" width="1" height="74" fill="#c0c0c0"/>
<rect x="460" y="655" width="1" height="72" fill="#c0c0c0"/>
<rect x="468" y="655" width="1" height="66" fill="#c0c0c0"/>
<rect x="476" y="655" width="1" height="64" fill="#c0c0c0"/>
<rect x="484" y="655" width="1" height="58" fill="#c0c0c0"/>
<rect x="492" y="655" width="1" height="50" fill="#c0c0c0"/>
<rect x="500" y="655" width="1" height="43" fill="#c0c0c0"/>
<rect x="508" y="655" width="1" height="40" fill="#c0c0c0"/>
<rect x="516" y="655" width="1" height="48" fill="#c0c0c0"/>
<rect x="524" y="655" width="1" height="45" fill="#c0c0c0"/>
<rect x="532" y="655" width="1" height="44" fill="#c0c0c0"/>
<rect x="540" y="655" width="1" height="40" fill="#c0c0c0"/>
<rect x="548" y="655" width="1" height="34" fill="#c0c0c0"/>
<rect x="556" y="655" width="1" height="26" fill="#c0c0c0"/>
<rect x="564" y="655" width="1" height="18" fill="#c0c0c0"/>
<rect x="572" y="655" width="1" height="12" fill="#c0c0c0"/>
<rect x="580" y="655" width="1" height="6" fill="#c0c0c0"/>
<rect x="588" y="654" width="1" height="2" fill="#c0c0c0"/>
<rect x="596" y="651" width="1" height="5" fill="#c0c0c0"/>
<rect x="604" y="646" width="1" height="10" fill="#c0c0c0"/>
<rect x="612" y="643" width="1" height="13" fill="#c0c0c0"/>
<rect x="620" y="643" width="1" height="13" fill="#c0c0c0"/>
<rect x="628" y="644" width="1" height="12" fill="#c0c0c0"/>
<rect x="636" y="645" width="1" height="11" fill="#c0c0c0"/>
<rect x="644" y="642" width="1" height="14" fill="#c0c0c0"/>
<rect x="652" y="636" width="1" height="20" fill="#c0c0c0"/>
<rect x="660" y="635" width="1" height="21" fill="#c0c0c0"/>
<rect x="668" y="635" width="1" height="21" fill="#c0c0c0"/>
<rect x="676" y="635" width="1" height="21" fill="#c0c0c0"/>
<rect x="684" y="638" width="1" height="18" fill="#c0c0c0"/>
<rect x="692" y="642" width="1" height="14" fill="#c0c0c0"/>
<rect x="700" y="646" width="1" height="10" fill="#c0c0c0"/>
<rect x="708" y="647" width="1" height="9" fill="#c0c0c0"/>
<rect x="716" y="650" width="1" height="6" fill="#c0c0c0"/>
<rect x="724" y="650" width="1" height="6" fill="#c0c0c0"/>
<rect x="732" y="650" width="1" height="6" fill="#c0c0c0"/>
<rect x="740" y="646" width="1" height="10" fill="#c0c0c0"/>
<rect x="748" y="649" width="1" height="7" fill="#c0c0c0"/>
<rect x="756" y="652" width="1" height="4" fill="#c0c0c0"/>
<rect x="764" y="654" width="1" height="2" fill="#c0c0c0"/>
<rect x="772" y="653" width="1" height="3" fill="#c0c0c0"/>
<rect x="780" y="653" width="1" height="3" fill="#c0c0c0"/>
<rect x="788" y="651" width="1" height="5" fill="#c0c0c0"/>
<rect x="796" y="651" width="1" height="5" fill="#c0c0c0"/>
<rect x="804" y="652" width="1" height="4" fill="#c0c0c0"/>
<rect x="812" y="652" width="1" height="4" fill="#c0c0c0"/>
<rect x="820" y="651" width="1" height="5" fill="#c0c0c0"/>
<rect x="828" y="650" width="1" height="6" fill="#c0c0c0"/>
<rect x="836" y="650" width="1" height="6" fill="#c0c0c0"/>
<rect x="844" y="648" width="1" height="8" fill="#c0c0c0"/>
<rect x="852" y="647" width="1" height="9" fill="#c0c0c0"/>
<rect x="860" y="644" width="1" height="12" fill="#c0c0c0"/>
<rect x="868" y="643" width="1" height="13" fill="#c0c0c0"/>
<rect x="876" y="643" width="1" height="13" fill="#c0c0c0"/>
<rect x="884" y="642" width="1" height="14" fill="#c0c0c0"/>
<rect x="892" y="640" width="1" height="16" fill="#c0c0c0"/>
<rect x="900" y="635" width="1" height="21" fill="#c0c0c0"/>
<rect x="908" y="630" width="1" height="26" fill="#c0c0c0"/>
<rect x="916" y="626" width="1" height="30" fill="#c0c0c0"/>
<rect x="924" y="624" width="1" height="32" fill="#c0c0c0"/>
<rect x="932" y="622" width="1" height="34" fill="#c0c0c0"/>
<rect x="940" y="627" width="1" height="29" fill="#c0c0c0"/>
<rect x="948" y="635" width="1" height="21" fill="#c0c0c0"/>
<rect x="956" y="642" width="1" height="14" fill="#c0c0c0"/>
<rect x="964" y="648" width="1" height="8" fill="#c0c0c0"/>
<rect x="972" y="650" width="1" height="6" fill="#c0c0c0"/>
<rect x="980" y="655" width="1" height="2" fill="#c0c0c0"/>
<rect x="988" y="655" width="1" height="2" fill="#c0c0c0"/>
<rect x="996" y="655" width="1" height="2" fill="#c0c0c0"/>
<rect x="1004" y="655" width="1" height="6" fill="#c0c0c0"/>
<rect x="1012" y="655" width="1" height="9" fill="#c0c0c0"/>
<rect x="1020" y="655" width="1" height="12" fill="#c0c0c0"/>
<rect x="1028" y="655" width="1" height="10" fill="#c0c0c0"/>
<rect x="1036" y="655" width="1" height="14" fill="#c0c0c0"/>
<rect x="1044" y="655" width="1" height="10" fill="#c0c0c0"/>
<rect x="1052" y="655" width="1" height="9" fill="#c0c0c0"/>
<rect x="1060" y="655" width="1" height="8" fill="#c0c0c0"/>
<rect x="1068" y="655" width="1" height="7" fill="#c0c0c0"/>
<rect x="1076" y="655" width="1" height="5" fill="#c0c0c0"/>
<rect x="1084" y="652" width="1" height="4" fill="#c0c0c0"/>
<rect x="1092" y="646" width="1" height="10" fill="#c0c0c0"/>
<rect x="1100" y="642" width="1" height="14" fill="#c0c0c0"/>
<rect x="1108" y="637" width="1" height="19" fill="#c0c0c0"/>
<rect x="1116" y="634" width="1" height="22" fill="#c0c0c0"/>
<rect x="1124" y="629" width="1" height="27" fill="#c0c0c0"/>
<rect x="1132" y="624" width="1" height="32" fill="#c0c0c0"/>
<rect x="1140" y="623" width="1" height="33" fill="#c0c0c0"/>
<rect x="1148" y="624" width="1" height="32" fill="#c0c0c0"/>
<rect x="1156" y="625" width="1" height="31" fill="#c0c0c0"/>
<rect x="1164" y="624" width="1" height="32" fill="#c0c0c0"/>
<rect x="1172" y="622" width="1" height="34" fill="#c0c0c0"/>
<rect x="1180" y="620" width="1" height="36" fill="#c0c0c0"/>
<rect x="1188" y="617" width="1" height="39" fill="#c0c0c0"/>
<rect x="1196" y="615" width="1" height="41" fill="#c0c0c0"/>
<rect x="1204" y="617" width="1" height="39" fill="#c0c0c0"/>
<rect x="1212" y="619" width="1" height="37" fill="#c0c0c0"/>
<rect x="1220" y="620" width="1" height="36" fill="#c0c0c0"/>
<rect x="1228" y="620" width="1" height="36" fill="#c0c0c0"/>
<rect x="1236" y="622" width="1" height="34" fill="#c0c0c0"/>
<rect x="1244" y="624" width="1" height="32" fill="#c0c0c0"/>
<rect x="1252" y="624" width="1" height="32" fill="#c0c0c0"/>
<rect x="1260" y="624" width="1" height="32" fill="#c0c0c0"/>
<rect x="1268" y="622" width="1" height="34" fill="#c0c0c0"/>
<rect x="1276" y="615" width="1" height="41" fill="#c0c0c0"/>
<rect x="1284" y="610" width="1" height="46" fill="#c0c0c0"/>
<rect x="1292" y="608" width="1" height="48" fill="#c0c0c0"/>
<rect x="1300" y="606" width="1" height="50" fill="#c0c0c0"/>
<rect x="1308" y="606" width="1" height="50" fill="#c0c0c0"/>
<rect x="1316" y="606" width="1" height="50" fill="#c0c0c0"/>
<rect x="1324" y="609" width="1" height="47" fill="#c0c0c0"/>
<rect x="1332" y="610" width="1" height="46" fill="#c0c0c0"/>
<rect x="1340" y="612" width="1" height="44" fill="#c0c0c0"/>
<rect x="1348" y="612" width="1" height="44" fill="#c0c0c0"/>
<rect x="1356" y="614" width="1" height="42" fill="#c0c0c0"/>
<rect x="1364" y="615" width="1" height="41" fill="#c0c0c0"/>
<rect x="1372" y="615" width="1" height="41" fill="#c0c0c0"/>
<rect x="1380" y="616" width="1" height="40" fill="#c0c0c0"/>
<rect x="1388" y="617" width="1" height="39" fill="#c0c0c0"/>
<rect x="1396" y="616" width="1" height="40" fill="#c0c0c0"/>
<rect x="1404" y="614" width="1" height="42" fill="#c0c0c0"/>
<rect x="1412" y="614" width="1" height="42" fill="#c0c0c0"/>
<rect x="1420" y="615" width="1" height="41" fill="#c0c0c0"/>
<rect x="1428" y="615" width="1" height="41" fill="#c0c0c0"/>
<rect x="1436" y="617" width="1" height="39" fill="#c0c0c0"/>
</g>
<path d="M66 657h3v1h-3zM78 657h3v1h-3zM1024 657h2v1h-2zM1102 657h3v1h-3zM210 596h3v1h-3zM216 596h3v1h-3zM658 643h3v1h-3zM731 643h2v1h-2zM893 643h2v1h-2zM42 649h3v1h-3zM766 649h3v1h-3zM850 649h3v1h-3zM856 649h2v1h-2zM12 636h2v1h-2zM923 636h2v1h-2zM982 636h2v1h-2zM1144 636h2v1h-2zM1336 608h3v1h-3zM1342 608h3v1h-3zM1348 608h3v1h-3zM562 693h2v1h-2zM1192 622h3v1h-3zM635 650h2v1h-2zM772 650h3v1h-3zM778 650h3v1h-3zM784 650h3v1h-3zM790 650h3v1h-3zM796 650h3v1h-3zM802 650h3v1h-3zM808 650h3v1h-3zM826 650h3v1h-3zM832 650h3v1h-3zM838 650h3v1h-3zM844 650h3v1h-3zM611 663h2v1h-2zM1048 663h3v1h-3zM1078 663h3v1h-3zM1204 620h3v1h-3zM1210 620h3v1h-3zM1264 620h3v1h-3zM1276 620h3v1h-3zM72 658h3v1h-3zM37 647h2v1h-2zM755 647h2v1h-2zM868 647h3v1h-3zM814 651h3v1h-3zM820 651h3v1h-3zM1012 651h2v1h-2zM1114 651h2v1h-2zM18 639h2v1h-2zM677 639h2v1h-2zM706 639h3v1h-3zM712 639h2v1h-2zM910 639h3v1h-3zM988 639h2v1h-2zM1138 639h2v1h-2zM1216 619h3v1h-3zM1222 619h3v1h-3zM1258 619h3v1h-3zM1282 619h3v1h-3zM55 654h2v1h-2zM1018 654h2v1h-2zM1109 654h2v1h-2zM683 638h2v1h-2zM688 638h3v1h-3zM694 638h3v1h-3zM700 638h3v1h-3zM916 638h3v1h-3zM1312 613h3v1h-3zM1396 613h3v1h-3zM1054 664h3v1h-3zM1060 664h3v1h-3zM1066 664h3v1h-3zM1072 664h3v1h-3zM30 644h2v1h-2zM109 644h2v1h-2zM737 644h2v1h-2zM742 644h3v1h-3zM90 655h3v1h-3zM156 612h2v1h-2zM1318 612h3v1h-3zM1385 612h2v1h-2zM1390 612h3v1h-3zM671 640h2v1h-2zM718 640h3v1h-3zM905 640h2v1h-2zM724 641h2v1h-2zM103 648h2v1h-2zM641 648h2v1h-2zM760 648h3v1h-3zM862 648h3v1h-3zM1006 648h2v1h-2zM1120 648h2v1h-2zM234 594h3v1h-3zM1036 661h3v1h-3zM1090 661h2v1h-2zM370 737h3v1h-3zM388 737h3v1h-3zM394 737h2v1h-2zM599 673h2v1h-2zM976 634h3v1h-3zM1174 626h3v1h-3zM934 633h3v1h-3zM971 633h2v1h-2zM1150 633h2v1h-2zM1042 662h3v1h-3zM1084 662h3v1h-3zM24 642h3v1h-3zM664 642h2v1h-2zM898 642h3v1h-3zM994 642h2v1h-2zM1132 642h2v1h-2zM162 609h3v1h-3zM1330 609h3v1h-3zM1355 609h2v1h-2zM1360 609h3v1h-3zM1325 610h2v1h-2zM1366 610h3v1h-3zM1372 610h3v1h-3zM532 705h3v1h-3zM448 733h3v1h-3zM1378 611h3v1h-3zM359 736h2v1h-2zM364 736h2v1h-2zM400 736h3v1h-3zM406 736h3v1h-3zM412 736h3v1h-3zM418 736h3v1h-3zM424 736h3v1h-3zM568 690h2v1h-2zM174 606h3v1h-3zM928 635h2v1h-2zM222 595h3v1h-3zM228 595h3v1h-3zM240 595h3v1h-3zM1307 614h2v1h-2zM1402 614h3v1h-3zM1408 614h3v1h-3zM1414 614h3v1h-3zM1420 614h3v1h-3zM1426 614h3v1h-3zM1432 614h3v1h-3zM538 703h2v1h-2zM1180 625h3v1h-3zM1228 618h3v1h-3zM1234 618h3v1h-3zM1240 618h3v1h-3zM1246 618h3v1h-3zM1252 618h2v1h-2zM1288 618h3v1h-3zM1096 659h3v1h-3zM204 597h3v1h-3zM246 597h2v1h-2zM1300 616h2v1h-2zM187 601h2v1h-2zM1 630h2v1h-2zM127 630h2v1h-2zM946 630h3v1h-3zM952 630h3v1h-3zM958 630h3v1h-3zM1156 630h3v1h-3zM508 715h2v1h-2zM352 734h3v1h-3zM442 734h3v1h-3zM346 731h2v1h-2zM460 731h3v1h-3zM484 727h2v1h-2zM1168 627h3v1h-3zM616 660h2v1h-2zM1030 660h3v1h-3zM192 600h3v1h-3zM574 687h3v1h-3zM652 645h2v1h-2zM748 645h3v1h-3zM880 645h3v1h-3zM886 645h2v1h-2zM1000 645h2v1h-2zM1126 645h2v1h-2zM376 738h3v1h-3zM382 738h3v1h-3zM340 728h2v1h-2zM479 728h2v1h-2zM941 631h2v1h-2zM964 631h2v1h-2zM150 615h2v1h-2zM96 653h2v1h-2zM629 653h2v1h-2zM550 698h3v1h-3zM520 710h2v1h-2zM61 656h2v1h-2zM84 656h3v1h-3zM623 656h2v1h-2zM431 735h2v1h-2zM436 735h3v1h-3zM1294 617h3v1h-3zM472 729h3v1h-3zM586 682h2v1h-2zM515 712h2v1h-2zM647 646h2v1h-2zM874 646h3v1h-3zM466 730h3v1h-3zM557 695h2v1h-2zM139 621h2v1h-2zM1198 621h3v1h-3zM1270 621h3v1h-3zM454 732h3v1h-3zM497 721h2v1h-2zM49 652h2v1h-2zM527 707h2v1h-2zM180 604h2v1h-2zM592 678h2v1h-2zM169 607h2v1h-2zM199 598h2v1h-2zM1163 628h2v1h-2zM545 700h2v1h-2zM580 685h2v1h-2zM491 724h2v1h-2zM1186 624h2v1h-2zM622 657h1v1h-1zM283 643h1v2h-1zM736 643h1v1h-1zM996 643h1v1h-1zM102 649h1v1h-1zM286 648h1v2h-1zM640 649h1v1h-1zM1008 649h1v1h-1zM120 636h1v1h-1zM279 636h1v2h-1zM168 608h1v1h-1zM260 608h1v1h-1zM1354 608h1v1h-1zM295 666h1v2h-1zM606 667h1v1h-1zM138 622h1v1h-1zM287 650h1v1h-1zM1116 650h1v1h-1zM269 620h1v1h-1zM1026 658h1v1h-1zM646 647h1v1h-1zM1122 647h1v1h-1zM296 668h1v1h-1zM605 668h1v1h-1zM48 651h1v1h-1zM634 651h1v1h-1zM116 639h1v1h-1zM682 639h1v1h-1zM144 619h1v1h-1zM268 618h1v2h-1zM1254 619h1v1h-1zM289 654h1v2h-1zM628 654h1v1h-1zM280 638h1v1h-1zM1140 638h1v1h-1zM264 613h1v1h-1zM610 664h1v1h-1zM198 599h1v1h-1zM654 644h1v1h-1zM888 644h1v1h-1zM892 644h1v1h-1zM1128 644h1v1h-1zM0 629h1v1h-1zM1162 629h1v1h-1zM60 655h1v1h-1zM1020 655h1v1h-1zM1108 655h1v1h-1zM263 612h1v1h-1zM20 640h1v1h-1zM115 640h1v1h-1zM676 640h1v1h-1zM714 640h1v1h-1zM990 640h1v1h-1zM114 641h1v1h-1zM666 641h1v1h-1zM670 641h1v1h-1zM904 641h1v1h-1zM1134 641h1v1h-1zM14 637h1v1h-1zM922 637h1v1h-1zM984 637h1v1h-1zM858 648h1v1h-1zM292 660h1v2h-1zM366 737h1v1h-1zM298 672h1v2h-1zM8 634h1v1h-1zM122 634h1v1h-1zM930 634h1v1h-1zM336 726h1v1h-1zM486 726h1v1h-1zM133 626h1v1h-1zM273 626h1v1h-1zM7 633h1v1h-1zM293 662h1v1h-1zM282 642h1v1h-1zM726 642h1v1h-1zM730 642h1v1h-1zM158 611h1v1h-1zM1324 611h1v1h-1zM1384 611h1v1h-1zM396 736h1v1h-1zM430 736h1v1h-1zM308 690h1v2h-1zM258 606h1v1h-1zM121 635h1v1h-1zM1146 635h1v1h-1zM503 718h1v1h-1zM335 725h1v1h-1zM490 725h1v1h-1zM152 614h1v1h-1zM265 614h1v1h-1zM315 702h1v2h-1zM134 625h1v1h-1zM272 624h1v2h-1zM145 618h1v1h-1zM618 659h1v1h-1zM252 601h1v1h-1zM275 630h1v1h-1zM324 715h1v1h-1zM319 709h1v2h-1zM522 709h1v1h-1zM132 627h1v1h-1zM309 692h1v1h-1zM564 692h1v1h-1zM1092 660h1v1h-1zM540 702h1v1h-1zM32 645h1v1h-1zM108 645h1v1h-1zM182 603h1v1h-1zM254 603h1v1h-1zM126 631h1v1h-1zM276 631h1v2h-1zM1302 615h1v1h-1zM1306 615h1v1h-1zM514 713h1v1h-1zM54 653h1v1h-1zM312 697h1v2h-1zM594 677h1v1h-1zM290 656h1v1h-1zM311 696h1v1h-1zM556 696h1v1h-1zM358 735h1v1h-1zM146 617h1v1h-1zM342 729h1v1h-1zM478 729h1v1h-1zM299 674h1v1h-1zM598 674h1v1h-1zM36 646h1v1h-1zM754 646h1v1h-1zM1002 646h1v1h-1zM304 684h1v1h-1zM582 684h1v1h-1zM348 732h1v1h-1zM329 721h1v1h-1zM6 632h1v1h-1zM940 632h1v1h-1zM966 632h1v1h-1zM970 632h1v1h-1zM1152 632h1v1h-1zM98 652h1v1h-1zM1014 652h1v1h-1zM186 602h1v1h-1zM253 602h1v1h-1zM588 681h1v1h-1zM325 716h1v1h-1zM301 678h1v1h-1zM259 607h1v1h-1zM248 598h1v1h-1zM318 708h1v1h-1zM526 708h1v1h-1zM305 685h1v1h-1zM334 724h1v1h-1zM328 720h1v1h-1zM330 722h1v1h-1zM496 722h1v1h-1zM502 719h1v1h-1zM302 679h1v2h-1zM306 686h1v1h-1zM323 714h1v1h-1zM510 714h1v1h-1zM316 704h1v1h-1zM544 701h1v1h-1zM1188 623h1v1h-1zM504 717h1v1h-1zM570 689h1v1h-1zM604 669h1v1h-1z" fill="#ff0000" shape-rendering="crispEdges"/>
<g shape-rendering="crispEdges">
<line x1="0" y1="789.5" x2="1647" y2="789.5" stroke="#c0c0c0" stroke-width="1" stroke-dasharray="3 3"/>
<line x1="0" y1="840.5" x2="1647" y2="840.5" stroke="#c0c0c0" stroke-width="1" stroke-dasharray="3 3"/>
<line x1="0" y1="901.5" x2="1647" y2="901.5" stroke="#c0c0c0" stroke-width="1" stroke-dasharray="3 3"/>
</g>
<path d="M126 820h3v1h-3zM147 820h2v1h-2zM212 820h3v1h-3zM1084 820h5v1h-5zM1115 820h3v1h-3zM1164 820h3v1h-3zM1212 820h5v1h-5zM1225 820h5v1h-5zM1340 820h2v1h-2zM0 835h3v1h-3zM559 835h4v1h-4zM567 835h4v1h-4zM574 835h2v1h-2zM620 835h2v1h-2zM786 835h2v1h-2zM790 835h2v1h-2zM492 841h3v1h-3zM684 841h10v1h-10zM30 857h2v1h-2zM329 857h2v1h-2zM334 857h3v1h-3zM364 857h2v1h-2zM382 857h2v1h-2zM468 850h2v1h-2zM481 850h2v1h-2zM531 850h3v1h-3zM950 850h3v1h-3zM524 848h3v1h-3zM536 848h2v1h-2zM955 848h2v1h-2zM905 809h2v1h-2zM919 809h4v1h-4zM926 809h3v1h-3zM1375 809h4v1h-4zM1385 809h4v1h-4zM111 826h2v1h-2zM162 826h2v1h-2zM884 826h3v1h-3zM1147 826h4v1h-4zM388 854h11v1h-11zM1018 854h2v1h-2zM27 858h3v1h-3zM326 858h3v1h-3zM337 858h2v1h-2zM380 858h2v1h-2zM459 858h2v1h-2zM63 840h2v1h-2zM551 840h2v1h-2zM635 840h2v1h-2zM722 840h2v1h-2zM764 840h3v1h-3zM803 840h4v1h-4zM1051 840h20v1h-20zM23 859h4v1h-4zM324 859h2v1h-2zM339 859h2v1h-2zM455 859h4v1h-4zM1298 805h2v1h-2zM1302 805h2v1h-2zM1393 805h2v1h-2zM108 828h2v1h-2zM158 828h2v1h-2zM739 828h2v1h-2zM867 828h3v1h-3zM1155 828h2v1h-2zM3 834h10v1h-10zM563 834h4v1h-4zM576 834h2v1h-2zM618 834h2v1h-2zM675 834h2v1h-2zM788 834h2v1h-2zM116 822h5v1h-5zM1108 822h3v1h-3zM1208 822h2v1h-2zM1232 822h2v1h-2zM472 852h2v1h-2zM1014 852h2v1h-2zM34 855h2v1h-2zM386 855h2v1h-2zM399 855h4v1h-4zM299 868h4v1h-4zM418 868h2v1h-2zM422 868h2v1h-2zM585 830h2v1h-2zM590 830h3v1h-3zM601 830h2v1h-2zM609 830h4v1h-4zM844 830h19v1h-19zM873 830h2v1h-2zM877 830h2v1h-2zM172 812h10v1h-10zM901 812h2v1h-2zM1183 812h4v1h-4zM1356 812h3v1h-3zM1368 812h2v1h-2zM556 836h3v1h-3zM571 836h3v1h-3zM622 836h3v1h-3zM731 836h2v1h-2zM792 836h2v1h-2zM819 836h2v1h-2zM287 865h4v1h-4zM412 865h2v1h-2zM1140 823h2v1h-2zM1206 823h2v1h-2zM1234 823h2v1h-2zM129 819h2v1h-2zM145 819h2v1h-2zM210 819h2v1h-2zM215 819h4v1h-4zM1089 819h4v1h-4zM1118 819h3v1h-3zM1167 819h4v1h-4zM1217 819h8v1h-8zM1252 819h2v1h-2zM1342 819h2v1h-2zM131 818h6v1h-6zM142 818h3v1h-3zM195 818h4v1h-4zM208 818h2v1h-2zM219 818h10v1h-10zM1121 818h2v1h-2zM1171 818h2v1h-2zM1254 818h3v1h-3zM1337 818h2v1h-2zM1344 818h2v1h-2zM538 847h2v1h-2zM186 815h2v1h-2zM1129 815h2v1h-2zM1329 815h2v1h-2zM1333 815h2v1h-2zM1350 815h2v1h-2zM49 844h2v1h-2zM502 844h2v1h-2zM545 844h2v1h-2zM699 844h4v1h-4zM715 844h2v1h-2zM991 844h2v1h-2zM527 849h4v1h-4zM534 849h2v1h-2zM953 849h2v1h-2zM625 837h2v1h-2zM679 837h2v1h-2zM729 837h2v1h-2zM783 837h2v1h-2zM794 837h2v1h-2zM815 837h4v1h-4zM77 817h2v1h-2zM137 817h5v1h-5zM191 817h4v1h-4zM199 817h4v1h-4zM206 817h2v1h-2zM1123 817h3v1h-3zM1173 817h2v1h-2zM1257 817h2v1h-2zM1324 817h2v1h-2zM1346 817h2v1h-2zM20 860h3v1h-3zM322 860h2v1h-2zM377 860h2v1h-2zM452 860h3v1h-3zM307 870h2v1h-2zM156 829h2v1h-2zM587 829h3v1h-3zM603 829h6v1h-6zM863 829h4v1h-4zM870 829h3v1h-3zM879 829h2v1h-2zM474 853h2v1h-2zM477 853h2v1h-2zM1016 853h2v1h-2zM1035 853h2v1h-2zM913 808h6v1h-6zM929 808h2v1h-2zM1292 808h2v1h-2zM1308 808h9v1h-9zM1379 808h6v1h-6zM1389 808h2v1h-2zM284 864h3v1h-3zM121 821h5v1h-5zM1111 821h4v1h-4zM1210 821h2v1h-2zM1230 821h2v1h-2zM1249 821h2v1h-2zM891 824h2v1h-2zM1105 824h2v1h-2zM1142 824h3v1h-3zM1204 824h2v1h-2zM1236 824h5v1h-5zM1245 824h2v1h-2zM647 825h2v1h-2zM887 825h4v1h-4zM1145 825h2v1h-2zM1241 825h4v1h-4zM255 872h2v1h-2zM350 872h3v1h-3zM44 842h2v1h-2zM55 842h2v1h-2zM66 842h3v1h-3zM495 842h4v1h-4zM694 842h3v1h-3zM707 842h4v1h-4zM719 842h2v1h-2zM761 842h2v1h-2zM994 842h2v1h-2zM627 838h4v1h-4zM726 838h3v1h-3zM771 838h6v1h-6zM781 838h2v1h-2zM796 838h3v1h-3zM811 838h4v1h-4zM1044 838h3v1h-3zM1075 838h2v1h-2zM582 831h3v1h-3zM593 831h2v1h-2zM598 831h3v1h-3zM613 831h2v1h-2zM875 831h2v1h-2zM470 851h2v1h-2zM948 851h2v1h-2zM1004 851h10v1h-10zM506 846h2v1h-2zM540 846h2v1h-2zM748 846h9v1h-9zM61 839h2v1h-2zM631 839h4v1h-4zM724 839h2v1h-2zM767 839h4v1h-4zM777 839h4v1h-4zM799 839h4v1h-4zM807 839h4v1h-4zM1047 839h4v1h-4zM1071 839h4v1h-4zM580 832h2v1h-2zM595 832h3v1h-3zM615 832h2v1h-2zM660 832h11v1h-11zM81 814h2v1h-2zM184 814h2v1h-2zM1131 814h2v1h-2zM1178 814h2v1h-2zM1331 814h2v1h-2zM1352 814h2v1h-2zM1363 814h3v1h-3zM578 833h2v1h-2zM671 833h4v1h-4zM188 816h3v1h-3zM203 816h3v1h-3zM1126 816h3v1h-3zM1175 816h2v1h-2zM1259 816h2v1h-2zM1326 816h3v1h-3zM1348 816h2v1h-2zM1433 816h2v1h-2zM1187 811h6v1h-6zM1370 811h2v1h-2zM1300 804h2v1h-2zM1296 806h2v1h-2zM1304 806h2v1h-2zM1404 799h5v1h-5zM318 862h2v1h-2zM431 862h2v1h-2zM32 856h2v1h-2zM331 856h3v1h-3zM384 856h2v1h-2zM403 856h2v1h-2zM291 866h4v1h-4zM414 866h2v1h-2zM426 866h2v1h-2zM303 869h4v1h-4zM420 869h2v1h-2zM295 867h4v1h-4zM311 867h2v1h-2zM416 867h2v1h-2zM424 867h2v1h-2zM160 827h2v1h-2zM882 827h2v1h-2zM1101 827h2v1h-2zM1151 827h4v1h-4zM268 888h9v1h-9zM99 813h2v1h-2zM182 813h2v1h-2zM1180 813h3v1h-3zM1354 813h2v1h-2zM1359 813h4v1h-4zM1366 813h2v1h-2zM1429 813h2v1h-2zM46 843h3v1h-3zM499 843h3v1h-3zM547 843h2v1h-2zM697 843h2v1h-2zM703 843h4v1h-4zM711 843h4v1h-4zM717 843h2v1h-2zM1398 802h2v1h-2zM1419 802h2v1h-2zM923 810h3v1h-3zM1193 810h4v1h-4zM1372 810h3v1h-3zM51 845h2v1h-2zM487 845h2v1h-2zM504 845h2v1h-2zM542 845h3v1h-3zM757 845h2v1h-2zM989 845h2v1h-2zM908 807h5v1h-5zM931 807h2v1h-2zM1294 807h2v1h-2zM1306 807h2v1h-2zM316 863h2v1h-2zM373 863h2v1h-2zM320 861h2v1h-2zM1281 795h4v1h-4zM355 874h2v1h-2zM348 871h2v1h-2zM1276 796h5v1h-5zM1400 801h2v1h-2zM1415 801h4v1h-4zM1402 800h2v1h-2zM1409 800h6v1h-6zM1396 803h2v1h-2zM353 873h2v1h-2zM75 820h1v3h-1zM92 820h1v1h-1zM104 820h1v2h-1zM167 820h1v1h-1zM229 820h1v2h-1zM895 820h1v1h-1zM935 819h1v4h-1zM1093 820h1v1h-1zM1137 820h1v1h-1zM1202 820h1v2h-1zM1251 820h1v1h-1zM12 835h1v1h-1zM71 833h1v3h-1zM235 834h1v2h-1zM639 835h1v2h-1zM677 835h1v1h-1zM733 835h1v1h-1zM743 833h1v3h-1zM821 835h1v1h-1zM832 834h1v2h-1zM840 835h1v2h-1zM938 832h1v5h-1zM1077 835h1v2h-1zM14 839h1v4h-1zM57 841h1v1h-1zM65 841h1v1h-1zM69 839h1v3h-1zM238 841h1v2h-1zM550 841h1v1h-1zM721 841h1v1h-1zM746 841h1v2h-1zM763 841h1v1h-1zM836 841h1v1h-1zM940 841h1v3h-1zM996 841h1v1h-1zM1027 841h1v2h-1zM1029 841h1v2h-1zM1042 841h1v2h-1zM19 856h1v3h-1zM246 857h1v2h-1zM405 857h1v1h-1zM437 857h1v1h-1zM450 857h1v2h-1zM461 857h1v1h-1zM513 857h1v2h-1zM519 857h1v2h-1zM17 849h1v3h-1zM39 849h1v2h-1zM242 849h1v2h-1zM444 850h1v1h-1zM509 849h1v2h-1zM523 849h1v2h-1zM947 850h1v1h-1zM958 850h1v1h-1zM969 850h1v1h-1zM975 850h1v1h-1zM985 850h1v1h-1zM1003 850h1v1h-1zM1023 849h1v2h-1zM1034 850h1v2h-1zM1038 849h1v2h-1zM16 846h1v3h-1zM40 848h1v1h-1zM241 847h1v2h-1zM484 848h1v1h-1zM508 847h1v2h-1zM945 848h1v1h-1zM970 848h1v2h-1zM974 848h1v2h-1zM986 848h1v2h-1zM1002 848h1v2h-1zM1024 847h1v2h-1zM1033 848h1v2h-1zM1039 847h1v2h-1zM932 808h1v2h-1zM1266 808h1v2h-1zM1317 809h1v1h-1zM1426 809h1v2h-1zM73 826h1v3h-1zM107 826h1v2h-1zM153 826h1v1h-1zM231 824h1v3h-1zM646 826h1v1h-1zM656 826h1v2h-1zM936 823h1v5h-1zM1081 826h1v2h-1zM1098 826h1v1h-1zM1103 826h1v1h-1zM1158 826h1v1h-1zM18 852h1v4h-1zM36 854h1v1h-1zM244 853h1v2h-1zM440 854h1v1h-1zM447 854h1v1h-1zM464 854h1v1h-1zM476 854h1v1h-1zM511 853h1v2h-1zM521 853h1v2h-1zM962 854h1v1h-1zM966 853h1v2h-1zM978 853h1v2h-1zM982 853h1v2h-1zM1021 853h1v2h-1zM1036 854h1v1h-1zM363 858h1v2h-1zM366 858h1v1h-1zM406 858h1v1h-1zM436 858h1v1h-1zM58 840h1v1h-1zM237 839h1v2h-1zM683 840h1v1h-1zM745 838h1v3h-1zM835 839h1v2h-1zM837 839h1v2h-1zM939 837h1v4h-1zM1028 840h1v1h-1zM1043 839h1v2h-1zM20 859h1v1h-1zM247 859h1v2h-1zM367 859h1v1h-1zM379 859h1v1h-1zM407 859h1v1h-1zM435 859h1v1h-1zM451 859h1v1h-1zM514 859h1v2h-1zM518 859h1v2h-1zM1269 805h1v1h-1zM1290 804h1v2h-1zM1422 804h1v2h-1zM155 828h1v1h-1zM232 827h1v2h-1zM644 828h1v1h-1zM657 828h1v1h-1zM828 828h1v1h-1zM881 828h1v1h-1zM937 828h1v4h-1zM1080 828h1v3h-1zM1100 828h1v1h-1zM640 834h1v1h-1zM734 834h1v1h-1zM822 834h1v1h-1zM841 834h1v1h-1zM1078 833h1v2h-1zM105 822h1v2h-1zM150 822h1v1h-1zM166 821h1v2h-1zM230 822h1v2h-1zM651 822h1v1h-1zM653 822h1v2h-1zM893 822h1v2h-1zM1083 822h1v2h-1zM1095 822h1v1h-1zM1139 822h1v1h-1zM1162 822h1v1h-1zM1203 822h1v2h-1zM1248 822h1v1h-1zM37 852h1v2h-1zM243 851h1v2h-1zM442 852h1v1h-1zM446 852h1v2h-1zM466 852h1v1h-1zM479 852h1v1h-1zM510 851h1v2h-1zM522 851h1v2h-1zM960 852h1v1h-1zM967 852h1v1h-1zM977 852h1v1h-1zM983 852h1v1h-1zM1022 851h1v2h-1zM1035 852h1v1h-1zM1037 851h1v2h-1zM245 855h1v2h-1zM439 855h1v1h-1zM448 855h1v1h-1zM463 855h1v1h-1zM512 855h1v2h-1zM520 855h1v2h-1zM963 855h1v1h-1zM965 855h1v1h-1zM979 855h1v1h-1zM981 855h1v1h-1zM1020 855h1v1h-1zM251 867h1v2h-1zM283 866h1v3h-1zM310 868h1v1h-1zM346 868h1v1h-1zM359 867h1v2h-1zM72 829h1v4h-1zM233 829h1v3h-1zM643 829h1v2h-1zM659 830h1v2h-1zM737 830h1v1h-1zM741 829h1v2h-1zM826 830h1v1h-1zM829 829h1v2h-1zM84 812h1v1h-1zM100 812h1v1h-1zM933 810h1v4h-1zM1197 811h1v2h-1zM1263 812h1v1h-1zM1320 812h1v2h-1zM1428 812h1v1h-1zM13 836h1v3h-1zM70 836h1v3h-1zM236 836h1v3h-1zM678 836h1v1h-1zM744 836h1v2h-1zM785 836h1v1h-1zM833 836h1v1h-1zM250 865h1v2h-1zM284 865h1v1h-1zM314 865h1v1h-1zM344 865h1v1h-1zM360 864h1v3h-1zM428 865h1v1h-1zM74 823h1v3h-1zM115 823h1v1h-1zM151 823h1v1h-1zM165 823h1v2h-1zM650 823h1v1h-1zM1096 823h1v2h-1zM1107 823h1v1h-1zM1161 823h1v1h-1zM1247 823h1v1h-1zM76 818h1v2h-1zM91 819h1v1h-1zM93 819h1v1h-1zM103 818h1v2h-1zM168 818h1v2h-1zM228 819h1v1h-1zM896 818h1v2h-1zM1136 818h1v2h-1zM1201 818h1v2h-1zM1339 819h1v1h-1zM90 818h1v1h-1zM94 818h1v1h-1zM934 814h1v5h-1zM1436 818h1v1h-1zM41 846h1v2h-1zM485 847h1v1h-1zM944 847h1v1h-1zM971 847h1v1h-1zM973 847h1v1h-1zM987 847h1v1h-1zM1001 847h1v1h-1zM1032 847h1v1h-1zM80 815h1v1h-1zM87 815h1v1h-1zM97 815h1v1h-1zM101 814h1v2h-1zM170 815h1v2h-1zM899 814h1v2h-1zM1133 815h1v1h-1zM1177 815h1v1h-1zM1199 815h1v2h-1zM1261 815h1v1h-1zM1322 815h1v1h-1zM1432 815h1v1h-1zM15 843h1v3h-1zM43 843h1v2h-1zM53 844h1v1h-1zM239 843h1v2h-1zM489 844h1v1h-1zM747 843h1v2h-1zM759 844h1v1h-1zM941 844h1v1h-1zM998 843h1v2h-1zM1026 843h1v2h-1zM1030 843h1v2h-1zM1041 843h1v2h-1zM483 849h1v1h-1zM946 849h1v1h-1zM957 849h1v1h-1zM555 837h1v1h-1zM638 837h1v1h-1zM834 837h1v2h-1zM839 837h1v1h-1zM1076 837h1v1h-1zM89 817h1v1h-1zM95 817h1v1h-1zM102 816h1v2h-1zM169 817h1v1h-1zM897 817h1v1h-1zM1135 817h1v1h-1zM1200 817h1v1h-1zM1336 817h1v1h-1zM1435 817h1v1h-1zM341 860h1v2h-1zM362 860h1v2h-1zM368 860h1v1h-1zM408 860h1v2h-1zM434 860h1v1h-1zM253 870h1v1h-1zM282 869h1v3h-1zM347 869h1v2h-1zM358 869h1v2h-1zM108 829h1v1h-1zM658 829h1v1h-1zM738 829h1v1h-1zM827 829h1v1h-1zM441 853h1v1h-1zM465 853h1v1h-1zM961 853h1v1h-1zM907 808h1v1h-1zM1425 808h1v1h-1zM249 863h1v2h-1zM315 864h1v1h-1zM343 863h1v2h-1zM372 864h1v1h-1zM411 864h1v1h-1zM429 864h1v1h-1zM516 863h1v2h-1zM149 821h1v1h-1zM652 821h1v1h-1zM894 821h1v1h-1zM1084 821h1v1h-1zM1094 821h1v1h-1zM1138 821h1v1h-1zM1163 821h1v1h-1zM265 883h1v2h-1zM278 881h1v3h-1zM106 824h1v2h-1zM114 824h1v1h-1zM152 824h1v2h-1zM649 824h1v1h-1zM654 824h1v1h-1zM1082 824h1v2h-1zM1160 824h1v1h-1zM113 825h1v1h-1zM164 825h1v1h-1zM655 825h1v1h-1zM1097 825h1v1h-1zM1104 825h1v1h-1zM1159 825h1v1h-1zM281 872h1v3h-1zM357 871h1v2h-1zM491 842h1v1h-1zM549 842h1v1h-1zM997 842h1v1h-1zM60 838h1v1h-1zM554 838h1v1h-1zM637 838h1v2h-1zM681 838h1v1h-1zM838 838h1v1h-1zM642 831h1v1h-1zM736 831h1v2h-1zM742 831h1v2h-1zM825 831h1v1h-1zM830 831h1v2h-1zM843 831h1v2h-1zM1079 831h1v2h-1zM38 851h1v1h-1zM443 851h1v1h-1zM445 851h1v1h-1zM467 851h1v1h-1zM480 851h1v1h-1zM959 851h1v1h-1zM968 851h1v1h-1zM976 851h1v1h-1zM984 851h1v1h-1zM240 845h1v2h-1zM486 846h1v1h-1zM943 846h1v1h-1zM972 846h1v1h-1zM988 846h1v1h-1zM1000 846h1v1h-1zM1025 845h1v2h-1zM1031 845h1v2h-1zM1040 845h1v2h-1zM59 839h1v1h-1zM553 839h1v1h-1zM682 839h1v1h-1zM1275 797h1v1h-1zM1285 796h1v2h-1zM234 832h1v2h-1zM641 832h1v2h-1zM824 832h1v1h-1zM86 814h1v1h-1zM98 814h1v1h-1zM171 813h1v2h-1zM1198 813h1v2h-1zM1262 813h1v2h-1zM1321 814h1v1h-1zM1431 814h1v1h-1zM617 833h1v1h-1zM735 833h1v1h-1zM823 833h1v1h-1zM831 833h1v1h-1zM842 833h1v1h-1zM79 816h1v1h-1zM88 816h1v1h-1zM96 816h1v1h-1zM898 816h1v1h-1zM1134 816h1v1h-1zM1323 816h1v1h-1zM1335 816h1v1h-1zM903 811h1v1h-1zM1264 811h1v1h-1zM1319 811h1v1h-1zM1427 811h1v1h-1zM266 885h1v1h-1zM277 884h1v3h-1zM1270 803h1v2h-1zM1395 804h1v1h-1zM1268 806h1v1h-1zM1291 806h1v2h-1zM1392 806h1v1h-1zM1423 806h1v1h-1zM1274 798h1v2h-1zM1286 798h1v2h-1zM248 861h1v2h-1zM342 862h1v1h-1zM361 862h1v2h-1zM370 862h1v1h-1zM375 862h1v1h-1zM409 862h1v1h-1zM515 861h1v2h-1zM517 861h1v2h-1zM364 856h1v1h-1zM438 856h1v1h-1zM449 856h1v1h-1zM462 856h1v1h-1zM964 856h1v1h-1zM980 856h1v1h-1zM313 866h1v1h-1zM345 866h1v2h-1zM252 869h1v1h-1zM309 869h1v1h-1zM264 882h1v1h-1zM110 827h1v1h-1zM154 827h1v1h-1zM645 827h1v1h-1zM740 827h1v1h-1zM1099 827h1v1h-1zM1157 827h1v1h-1zM83 813h1v1h-1zM85 813h1v1h-1zM900 813h1v1h-1zM260 876h1v1h-1zM280 875h1v3h-1zM54 843h1v1h-1zM68 843h1v1h-1zM490 843h1v1h-1zM760 843h1v1h-1zM993 843h1v1h-1zM1271 802h1v1h-1zM1288 801h1v2h-1zM904 810h1v1h-1zM1265 810h1v1h-1zM1318 810h1v1h-1zM42 845h1v1h-1zM748 845h1v1h-1zM942 845h1v1h-1zM999 845h1v1h-1zM1267 807h1v1h-1zM1391 807h1v1h-1zM1424 807h1v1h-1zM371 863h1v1h-1zM410 863h1v1h-1zM430 863h1v1h-1zM369 861h1v1h-1zM376 861h1v1h-1zM433 861h1v1h-1zM258 874h1v1h-1zM259 875h1v1h-1zM254 871h1v1h-1zM1272 801h1v1h-1zM1273 800h1v1h-1zM1287 800h1v1h-1zM267 886h1v2h-1zM262 879h1v1h-1zM279 878h1v3h-1zM1289 803h1v1h-1zM1421 803h1v1h-1zM261 877h1v2h-1zM257 873h1v1h-1zM356 873h1v1h-1zM263 880h1v2h-1zM276 887h1v1h-1z" fill="#1e90ff" shape-rendering="crispEdges"/>
<line x1="1213.0" y1="263.0" x2="1426.9" y2="115.3" stroke="#ff0000" stroke-width="3.2"/>
<polygon points="1436.0,109.0 1429.8,119.4 1424.1,111.1" fill="#ff0000"/>
<line x1="1431.0" y1="115.0" x2="1446.3" y2="134.2" stroke="#ff0000" stroke-width="3"/>
<polygon points="1452.5,142.0 1442.4,137.3 1450.2,131.1" fill="#ff0000"/>
<line x1="1348.0" y1="611.5" x2="1445.0" y2="610.6" stroke="#ff0000" stroke-width="3.2"/>
<polygon points="1457.0,610.5 1445.0,615.6 1445.0,605.6" fill="#ff0000"/>
<line x1="1324.0" y1="815.0" x2="1418.1" y2="801.4" stroke="#ff0000" stroke-width="3.2"/>
<polygon points="1428.0,800.0 1418.7,805.9 1417.5,797.0" fill="#ff0000"/>
<line x1="1426.0" y1="800.0" x2="1438.2" y2="809.6" stroke="#ff0000" stroke-width="3"/>
<polygon points="1444.5,814.5 1435.4,813.1 1441.0,806.0" fill="#ff0000"/>
<g shape-rendering="crispEdges" fill="#000">
<rect x="0" y="26" width="1648" height="1"/>
<rect x="1647" y="26" width="1" height="554"/>
<rect x="0" y="579" width="1648" height="1"/>
<rect x="0" y="581" width="1648" height="1"/>
<rect x="1647" y="581" width="1" height="171"/>
<rect x="0" y="751" width="1648" height="1"/>
<rect x="0" y="753" width="1648" height="1"/>
<rect x="1647" y="753" width="1" height="175"/>
<rect x="0" y="927" width="1648" height="1"/>
<rect x="1648" y="48" width="2" height="1"/>
<rect x="1648" y="81" width="2" height="1"/>
<rect x="1648" y="114" width="2" height="1"/>
<rect x="1648" y="147" width="2" height="1"/>
<rect x="1648" y="180" width="2" height="1"/>
<rect x="1648" y="213" width="2" height="1"/>
<rect x="1648" y="246" width="2" height="1"/>
<rect x="1648" y="279" width="2" height="1"/>
<rect x="1648" y="312" width="2" height="1"/>
<rect x="1648" y="345" width="2" height="1"/>
<rect x="1648" y="378" width="2" height="1"/>
<rect x="1648" y="411" width="2" height="1"/>
<rect x="1648" y="444" width="2" height="1"/>
<rect x="1648" y="477" width="2" height="1"/>
<rect x="1648" y="510" width="2" height="1"/>
<rect x="1648" y="543" width="2" height="1"/>
<rect x="1648" y="576" width="2" height="1"/>
<rect x="1648" y="583" width="2" height="1"/>
<rect x="1648" y="655" width="2" height="1"/>
<rect x="1648" y="750" width="2" height="1"/>
<rect x="1648" y="755" width="2" height="1"/>
<rect x="1648" y="789" width="2" height="1"/>
<rect x="1648" y="840" width="2" height="1"/>
<rect x="1648" y="902" width="2" height="1"/>
<rect x="1648" y="926" width="2" height="1"/>
<rect x="52" y="928" width="1" height="3"/>
<rect x="116" y="928" width="1" height="3"/>
<rect x="180" y="928" width="1" height="3"/>
<rect x="244" y="928" width="1" height="3"/>
<rect x="308" y="928" width="1" height="3"/>
<rect x="372" y="928" width="1" height="3"/>
<rect x="436" y="928" width="1" height="3"/>
<rect x="500" y="928" width="1" height="3"/>
<rect x="564" y="928" width="1" height="3"/>
<rect x="628" y="928" width="1" height="3"/>
<rect x="692" y="928" width="1" height="3"/>
<rect x="756" y="928" width="1" height="3"/>
<rect x="820" y="928" width="1" height="3"/>
<rect x="884" y="928" width="1" height="3"/>
<rect x="948" y="928" width="1" height="3"/>
<rect x="1012" y="928" width="1" height="3"/>
<rect x="1076" y="928" width="1" height="3"/>
<rect x="1140" y="928" width="1" height="3"/>
<rect x="1204" y="928" width="1" height="3"/>
<rect x="1268" y="928" width="1" height="3"/>
<rect x="1332" y="928" width="1" height="3"/>
<rect x="1396" y="928" width="1" height="3"/>
</g>
<g font-size="9.2" fill="#000" stroke="#000" stroke-width="0.15">
<text x="1653.5" y="51.6">115.540</text>
<text x="1653.5" y="84.6">115.345</text>
<text x="1653.5" y="117.6">115.155</text>
<text x="1653.5" y="150.6">114.960</text>
<text x="1653.5" y="216.6">114.575</text>
<text x="1653.5" y="249.6">114.385</text>
<text x="1653.5" y="282.6">114.190</text>
<text x="1653.5" y="315.6">113.995</text>
<text x="1653.5" y="348.6">113.805</text>
<text x="1653.5" y="381.6">113.610</text>
<text x="1653.5" y="414.6">113.420</text>
<text x="1653.5" y="447.6">113.225</text>
<text x="1653.5" y="480.6">113.035</text>
<text x="1653.5" y="513.6">112.840</text>
<text x="1653.5" y="546.6">112.645</text>
<text x="1653.5" y="579.6">112.455</text>
<text x="1651.5" y="591.9">0.3152</text>
<text x="1651.5" y="659.4">0.00</text>
<text x="1651.5" y="748.4">-0.4115</text>
<text x="1651.5" y="763.9">100</text>
<text x="1651.5" y="793.4">80</text>
<text x="1651.5" y="844.4">50</text>
<text x="1651.5" y="905.9">15</text>
<text x="1651.5" y="924.4">0</text>
</g>
<g shape-rendering="crispEdges">
<rect x="1649" y="90" width="41" height="11" fill="#ff0000"/>
<rect x="1649" y="115" width="41" height="11" fill="#ff0000"/>
<rect x="1649" y="133" width="41" height="11" fill="#000000"/>
<rect x="1649" y="151" width="41" height="11" fill="#32cd32"/>
<rect x="1649" y="174" width="41" height="11" fill="#0000ff"/>
<rect x="1649" y="195" width="41" height="11" fill="#0000ff"/>
</g>
<g font-size="9.2" fill="#fff">
<text x="1654" y="99" stroke="#fff" stroke-width="0.2">115.257</text>
<text x="1654" y="124" stroke="#fff" stroke-width="0.2">115.112</text>
<text x="1654" y="142" stroke="#fff" stroke-width="0.2">115.013</text>
<text x="1654" y="160" stroke="#fff" stroke-width="0.2">114.902</text>
<text x="1654" y="183" stroke="#fff" stroke-width="0.2">114.767</text>
<text x="1654" y="204" stroke="#fff" stroke-width="0.2">114.645</text>
</g>
<g font-size="9.2" fill="#000" stroke="#000" stroke-width="0.15">
<text x="-13.5" y="938.8">18 Nov 2021</text>
<text x="50.5" y="938.8">22 Nov 00:00</text>
<text x="114.5" y="938.8">23 Nov 08:00</text>
<text x="178.5" y="938.8">24 Nov 16:00</text>
<text x="242.5" y="938.8">26 Nov 00:00</text>
<text x="306.5" y="938.8">29 Nov 08:00</text>
<text x="370.5" y="938.8">30 Nov 16:00</text>
<text x="434.5" y="938.8">2 Dec 00:00</text>
<text x="498.5" y="938.8">3 Dec 08:00</text>
<text x="562.5" y="938.8">6 Dec 16:00</text>
<text x="626.5" y="938.8">8 Dec 00:00</text>
<text x="690.5" y="938.8">9 Dec 08:00</text>
<text x="754.5" y="938.8">10 Dec 16:00</text>
<text x="818.5" y="938.8">14 Dec 00:00</text>
<text x="882.5" y="938.8">15 Dec 08:00</text>
<text x="946.5" y="938.8">16 Dec 16:00</text>
<text x="1010.5" y="938.8">20 Dec 00:00</text>
<text x="1074.5" y="938.8">21 Dec 08:00</text>
<text x="1138.5" y="938.8">22 Dec 16:00</text>
<text x="1202.5" y="938.8">24 Dec 00:00</text>
<text x="1266.5" y="938.8">27 Dec 08:00</text>
<text x="1330.5" y="938.8">28 Dec 16:00</text>
<text x="1394.5" y="938.8">30 Dec 00:00</text>
</g>
<text x="3" y="38" font-size="9.45" fill="#000" stroke="#000" stroke-width="0.15" id="ttl">USDJPY-,H4  115.056 115.079 115.013 115.013</text>
<text x="-7.5" y="593.5" font-size="9.3" fill="#000" stroke="#000" stroke-width="0.15" id="macdt">MACD(12,26,9) 0.1684 0.1777</text>
<text x="-8" y="765.5" font-size="9.3" fill="#000" stroke="#000" stroke-width="0.15" id="rsit">RSI(14) 63.3519</text>
</svg>
<div id="redge"></div>
<div id="tp">
 <div style="left:210px;top:0;width:2px;height:57px;background:#fff;"></div>
 <div style="left:42px;top:0;width:117px;height:25px;background:#f4f4f4;"></div>
 <div class="btn" style="left:0;width:42px;padding-left:3px;letter-spacing:-0.5px;">SELL</div>
 <div style="left:0;top:23px;width:39px;height:1px;background:#f7a0a0;"></div>
 <div class="btn" style="left:158px;width:52px;padding-left:13px;">BUY</div>
 <div style="left:162px;top:23px;width:44px;height:1px;background:#f7a0a0;"></div>
 <div style="left:45px;top:0;width:111px;height:22px;background:#fff;border:1px solid #abadb3;"></div>
 <div style="left:46px;top:1px;width:20px;height:20px;background:linear-gradient(#f2f2f2,#cfcfcf);border:1px solid #d9d9d9;"></div>
 <div style="left:135px;top:1px;width:20px;height:20px;background:linear-gradient(#f2f2f2,#cfcfcf);border:1px solid #d9d9d9;"></div>
 <div style="left:52px;top:9px;width:0;height:0;border-left:3px solid transparent;border-right:3px solid transparent;border-top:4px solid #5a6ab8;"></div>
 <div style="left:142px;top:8px;width:0;height:0;border-left:3px solid transparent;border-right:3px solid transparent;border-bottom:4px solid #5a6ab8;"></div>
 <div style="left:66px;top:0;width:65px;height:22px;text-align:right;font-size:13px;line-height:21px;color:#000;">1.00</div>
 <div style="left:100px;top:24px;width:2px;height:33px;background:#fff;"></div>
 <div class="pp" style="left:0;width:100px;"></div>
 <div class="pp" style="left:102px;width:108px;"></div>
 <div class="sm2" style="left:14px;top:42.300px;color:#fff;">115</div>
 <div class="bg" style="left:38px;top:24.500px;color:#fff;">01</div>
 <div class="sm" style="left:78.5px;top:27px;color:#fff;">3</div>
 <div class="sm2" style="left:124.500px;top:42.300px;color:#fff;">115</div>
 <div class="bg" style="left:150px;top:24.500px;color:#fff;">10</div>
 <div class="sm" style="left:190px;top:27px;color:#fff;">1</div>
 <div style="left:13px;top:34px;width:3px;height:3px;border:1px solid #7fd8e8;transform:rotate(45deg);box-sizing:border-box;"></div>
</div>

<div id="tb"></div><div id="tbb"></div>
<svg id="tbi" width="1694" height="22" viewBox="0 0 1694 22" style="position:absolute;left:0;top:0">
<defs>
<linearGradient id="gld" x1="0" y1="0" x2="1" y2="1"><stop offset="0" stop-color="#f7d860"/><stop offset="1" stop-color="#c8901a"/></linearGradient>
<linearGradient id="blu" x1="0" y1="0" x2="0" y2="1"><stop offset="0" stop-color="#58b4ff"/><stop offset="1" stop-color="#1470d8"/></linearGradient>
<radialGradient id="lens" cx="0.4" cy="0.4" r="0.7"><stop offset="0" stop-color="#e8f6ff"/><stop offset="1" stop-color="#9fd0f5"/></radialGradient>
<radialGradient id="clk" cx="0.5" cy="0.5" r="0.5"><stop offset="0.62" stop-color="#f4f8ff"/><stop offset="0.68" stop-color="#3a78d8"/><stop offset="1" stop-color="#1450b0"/></radialGradient>
<g id="ax" fill="none" stroke="#505050"><path d="M2.500 3.500v14.500M0 15.500h13.500" shape-rendering="crispEdges"/><path d="M0.800 6l1.700-2.800 1.700 2.800M11.300 13.800l2.700 1.700-2.700 1.700" stroke-width="0.9"/></g>
</defs>
<g shape-rendering="crispEdges">
<rect x="0" y="16" width="1" height="2" fill="#e8a020"/>
<!-- separators -->
<g fill="#a0a0a0">
<rect x="8" y="0" width="1" height="20"/>
<rect x="245" y="1" width="1" height="19"/>
<rect x="339" y="1" width="1" height="19"/>
<rect x="429" y="1" width="1" height="19"/>
<rect x="462" y="1" width="1" height="19"/>
<rect x="491" y="1" width="1" height="19"/>
<rect x="612" y="1" width="1" height="19"/>
<rect x="679" y="1" width="1" height="19"/>
<rect x="918" y="1" width="1" height="19"/>
<rect x="1179" y="1" width="1" height="19"/>
<rect x="282" y="0" width="1" height="21"/><rect x="434" y="0" width="1" height="21"/><rect x="622" y="0" width="1" height="21"/><rect x="1068" y="0" width="1" height="21"/>
</g>
<!-- pressed buttons -->
<g fill="#f7f7f7" stroke="none">
<rect x="282.5" y="0.5" width="24" height="20"/>
<rect x="434.5" y="0.5" width="24" height="20"/>
<rect x="463.5" y="0.5" width="24" height="20"/>
<rect x="622.5" y="0.5" width="25" height="20"/>
<rect x="1068.5" y="0.5" width="25" height="20"/>
</g>
<!-- grips -->
<g fill="#a8a8a8">
<path d="M248 2h3v1h-3zM248 4h3v1h-3zM248 6h3v1h-3zM248 8h3v1h-3zM248 10h3v1h-3zM248 12h3v1h-3zM248 14h3v1h-3zM248 16h3v1h-3zM248 18h3v1h-3z"/>
<path d="M616 2h3v1h-3zM616 4h3v1h-3zM616 6h3v1h-3zM616 8h3v1h-3zM616 10h3v1h-3zM616 12h3v1h-3zM616 14h3v1h-3zM616 16h3v1h-3zM616 18h3v1h-3z"/>
<path d="M922 2h3v1h-3zM922 4h3v1h-3zM922 6h3v1h-3zM922 8h3v1h-3zM922 10h3v1h-3zM922 12h3v1h-3zM922 14h3v1h-3zM922 16h3v1h-3zM922 18h3v1h-3z"/>
</g>
</g>
<!-- 1 new order -->
<g>
<path d="M18.500 2.800h7.500l4 4v9h-11.500z" fill="#fdfdfd" stroke="#808080"/>
<path d="M26 2.800v4h4" fill="#e4e4e4" stroke="#808080"/>
<path d="M20.500 5.500h3.500M20.500 8.500h6M20.500 11h4M20.500 13.500h3" stroke="#909090"/>
<path d="M26.400 8.700h3.300v3.900h3.900v3.300h-3.900v3.700h-3.300v-3.700h-3.900v-3.300h3.900z" fill="#2fd02f" stroke="#0a7a0a" stroke-width="0.900"/>
<path d="M27.200 9.500v3.900h-3.900" fill="none" stroke="#b4f4b4" stroke-width="0.800"/>
</g>
<!-- 3 gold book -->
<path d="M84.800 10.800L92.500 16.300 101 10.800v2L92.500 18.600 84.800 12.800z" fill="#9a6a10"/>
<path d="M90.800 3L101 10.800 92.500 16.300 84.800 10.800c0.500-2 3.700-6.500 6-7.800z" fill="url(#gld)" stroke="#b8861c" stroke-width="0.700"/>
<path d="M85.400 12L92.500 17.300 100.600 12" fill="none" stroke="#fff2c0" stroke-width="0.800"/>
<!-- 4 pc cloud -->
<path d="M116 3.500l4.500-1.200v9.500h-4.500z" fill="#58b4fa" stroke="#2a78d0" stroke-width="0.600"/>
<path d="M120.500 2.300l5.700 1.500v8h-5.700z" fill="#1f7fe0" stroke="#1a60b8" stroke-width="0.600"/>
<rect x="122" y="5.500" width="3.200" height="1.200" fill="#e8f4ff"/>
<path d="M114.500 17.500a2.600 2.600 0 0 1 0.800-5 3.200 3.200 0 0 1 5.800-1.200 2.800 2.800 0 0 1 4.600 1.800 2.300 2.300 0 0 1 0.300 4.400z" fill="#f2f6fc" stroke="#6a8cc8" stroke-width="0.900"/>
<!-- 5 signal -->
<circle cx="149" cy="9.800" r="7.900" fill="#eef2f8"/>
<path d="M149.500 9.800L149.500 17.700A7.900 7.900 0 0 0 153.500 3.300z" fill="#8cc88c" opacity="0.850"/>
<path d="M149.500 9.800L149.500 17.700A7.900 7.900 0 0 0 156.700 11.500z" fill="#4aae4a" opacity="0.800"/>
<circle cx="149" cy="9.800" r="7.500" fill="none" stroke="#5a84d8" stroke-width="0.900" stroke-dasharray="12 35.200" transform="rotate(115 149 9.800)"/>
<circle cx="149" cy="9.800" r="7.500" fill="none" stroke="#9ab4e8" stroke-width="0.800" stroke-dasharray="8 39.200" transform="rotate(220 149 9.800)"/>
<circle cx="149" cy="9.800" r="4.600" fill="none" stroke="#6a90dc" stroke-width="0.900" stroke-dasharray="9 19.900" transform="rotate(110 149 9.800)"/>
<circle cx="149" cy="9.800" r="4.600" fill="none" stroke="#b0c8b8" stroke-width="0.800" stroke-dasharray="8 20.900" transform="rotate(290 149 9.800)"/>
<circle cx="148.700" cy="9.500" r="2" fill="#2a5cd0"/>
<path d="M149.600 10v7.700" stroke="#22a022" stroke-width="1.300"/>
<!-- 6 autotrade -->
<path d="M168.300 9.300l7.700 8.700 7.500-3.500v-6.300z" fill="#fbe060" stroke="#c89a14" stroke-width="0.800"/>
<path d="M170 10l6.200 7 2-1" fill="none" stroke="#fff6b0" stroke-width="0.700"/>
<ellipse cx="176" cy="6.800" rx="7.800" ry="2.700" fill="#4aa8e0" stroke="#1c7ab0" stroke-width="0.700"/>
<path d="M172.300 6.600C172 0.600 180 0.600 179.700 6.600z" fill="#78c4f0" stroke="#1c7ab0" stroke-width="0.700"/>
<path d="M169.500 7.500c3 2 10 2 13.500-0.500" fill="none" stroke="#1c7ab0" stroke-width="0.500"/>
<circle cx="180.500" cy="13.800" r="4.100" fill="#e02808"/>
<circle cx="180.500" cy="13.800" r="3.600" fill="none" stroke="#b81800" stroke-width="0.800"/>
<rect x="178.900" y="12.200" width="3.200" height="3" fill="#fff"/>
<!-- 9 bar chart -->
<use href="#ax" x="260" y="0"/>
<path d="M268.500 5v8.500M266 12.500h2.500M268.500 6.500h2.500" stroke="#208a20" fill="none" stroke-width="1.200" shape-rendering="crispEdges"/>
<!-- 10 candle chart -->
<use href="#ax" x="288" y="0"/>
<g shape-rendering="crispEdges"><path d="M296.500 2v12" stroke="#208a20"/>
<rect x="294.500" y="4.500" width="4" height="7" fill="#38d848" stroke="#208a20"/></g>
<!-- 11 line chart -->
<use href="#ax" x="316" y="0"/>
<path d="M317.500 12.500c2-2 3.500-5.500 6-5.500 2 0 3 2.500 5 4" stroke="#208a20" stroke-width="1.200" fill="none"/>
<!-- 13 zoom in -->
<g>
<path d="M358 11.500l5 5" stroke="#c8a020" stroke-width="2.600" stroke-linecap="round"/>
<circle cx="354" cy="7.800" r="5.300" fill="url(#lens)" stroke="#3a78c8" stroke-width="1.300"/>
<path d="M351 7.800h6M354 4.800v6" stroke="#2a60b8" stroke-width="1.500"/>
</g>
<!-- 14 zoom out -->
<g>
<path d="M386 11.500l5 5" stroke="#c8a020" stroke-width="2.600" stroke-linecap="round"/>
<circle cx="382" cy="7.800" r="5.300" fill="url(#lens)" stroke="#3a78c8" stroke-width="1.300"/>
<path d="M379 7.800h6" stroke="#2a60b8" stroke-width="1.500"/>
</g>
<!-- 15 tile -->
<g shape-rendering="crispEdges">
<rect x="404" y="2" width="8" height="8" fill="#48a838"/><rect x="412" y="2" width="8" height="8" fill="#2868d0"/>
<rect x="404" y="10" width="8" height="8" fill="#2868d0"/><rect x="412" y="10" width="8" height="8" fill="#48a838"/>
<g fill="#eef4ff"><rect x="405" y="5" width="6" height="4"/><rect x="413" y="5" width="6" height="4"/><rect x="405" y="13" width="6" height="4"/><rect x="413" y="13" width="6" height="4"/></g>
<g fill="#48a838"><rect x="406" y="7" width="4" height="1"/><rect x="414" y="15" width="4" height="1"/></g>
<g fill="#2868d0"><rect x="414" y="7" width="4" height="1"/><rect x="406" y="15" width="4" height="1"/></g>
</g>
<!-- 17 autoscroll -->
<use href="#ax" x="440" y="0"/>
<path d="M447 6l4.500 3.200-4.500 3.200z" fill="#28a428"/>
<!-- 19 chart shift -->
<use href="#ax" x="468" y="0"/>
<path d="M477.500 4v10" stroke="#2858c0" shape-rendering="crispEdges"/>
<path d="M483 9.500h-4M481 7.500l-2.500 2 2.500 2" stroke="#d03010" fill="none" stroke-width="1.100"/>
<!-- 21 indicators -->
<g>
<path d="M501.500 2.500h7l3 3v9h-10z" fill="#fcfcfc" stroke="#7a7a7a"/>
<path d="M508.500 2.500v3h3" fill="#e0e0e0" stroke="#7a7a7a"/>
<path d="M504.500 5.500v4M503.500 7.500h3" stroke="#8a8a8a" stroke-width="0.8"/>
<path d="M509 8.500h4v3.700h3.800v4h-3.800v3.500h-4v-3.500h-3.700v-4h3.700z" fill="#22c422" stroke="#0e8a0e" stroke-width="0.8"/>
<path d="M523 9h6l-3 3.500z" fill="#000"/>
</g>
<!-- 22 clock -->
<circle cx="547" cy="10" r="7.800" fill="url(#clk)"/>
<path d="M547 5.500v4.800h3.200" stroke="#606060" fill="none" stroke-width="1.100"/>
<path d="M562 9h6l-3 3.500z" fill="#000"/>
<!-- 23 templates -->
<g shape-rendering="crispEdges">
<rect x="578.500" y="2.500" width="15" height="14" fill="#fdfdfd" stroke="#3a70c0"/>
<rect x="579" y="3" width="14" height="3" fill="#5a98e0"/>
</g>
<path d="M581 10l3-1 2 0.500 3-1.500 3 0.500" stroke="#c03020" fill="none"/>
<path d="M581 14l3-1 2 1 3-2 3 1" stroke="#20a030" fill="none"/>
<path d="M601 9h6l-3 3.500z" fill="#000"/>
<!-- 25 cursor -->
<path d="M630.500 3.500v12l3-2.800 2.300 4.800 1.800-0.900-2.300-4.600h4z" fill="#404040"/>
<!-- 26 crosshair -->
<path d="M662.500 3v15M655 10.500h15" stroke="#505050" shape-rendering="crispEdges"/>
<rect x="661" y="9" width="3" height="3" fill="#f0f0f0"/>
<path d="M662.500 8.500v4M660.500 10.500h4" stroke="#505050" shape-rendering="crispEdges"/>
<!-- 28 vline 29 hline 30 trend -->
<path d="M696.500 4v13M718 10.500h13" stroke="#505050" shape-rendering="crispEdges"/>
<path d="M747 17l12-12" stroke="#505050" stroke-width="1.200"/>
<!-- 31 channel -->
<g stroke="#505050" stroke-width="1" fill="none">
<path d="M773 13l12-10M775 17l12-10"/>
<path d="M776.500 16l1.500-7M779.500 13.500l1.500-7M782.500 11l1.500-7" />
</g>
<text x="783.500" y="19.500" font-size="6.500" font-weight="bold" fill="#303030" font-family="Liberation Sans, sans-serif">E</text>
<!-- 32 fibo -->
<g stroke="#505050" stroke-dasharray="1 1" shape-rendering="crispEdges">
<path d="M802 3.500h13M802 7.500h13M802 11.500h13M802 15.500h9"/>
</g>
<text x="812" y="19.500" font-size="6.500" font-weight="bold" fill="#303030" font-family="Liberation Sans, sans-serif">F</text>
<!-- 33 A -->
<text x="832.600" y="15.200" font-size="12.500" fill="#505050" stroke="#505050" stroke-width="0.3" font-family="Liberation Sans, sans-serif">A</text>
<!-- 34 T -->
<rect x="858.500" y="3.500" width="12" height="13" fill="none" stroke="#505050" stroke-dasharray="1 1" shape-rendering="crispEdges"/>
<text x="860.600" y="15" font-size="11.500" fill="#505050" font-family="Liberation Sans, sans-serif" font-weight="bold">T</text>
<!-- 35 arrows -->
<path d="M886 8l3-3.500 3 3.500zM892.500 13.500l3 3.500 3-3.500z" fill="#404040"/>
<path d="M888 11.500l2 2.500 4.500-5" stroke="#404040" fill="none" stroke-width="1.300"/>
<path d="M907 9h6l-3 3.500z" fill="#000"/>
<!-- search -->
<circle cx="1649.500" cy="7.500" r="3.600" fill="#f4f8ff" stroke="#2a5ad0" stroke-width="1.600"/>
<path d="M1647 10.500l-5 4.500" stroke="#2a5ad0" stroke-width="2.400" stroke-linecap="round"/>
<!-- chat -->
<path d="M1668 8.500a3 3 0 0 1 3-2.500h8v8a3 3 0 0 1-3 2h-3.500l-2.500 2.500v-2.500a3 3 0 0 1-2-2.800z" fill="#e6e8f0" stroke="#c0c4cc" stroke-width="0.8"/>
<circle cx="1680" cy="8" r="8.300" fill="#e02c10"/>
<text x="1676.200" y="12.600" font-size="13" fill="#fff" stroke="#fff" stroke-width="0.3" font-family="Liberation Sans, sans-serif">1</text>
</svg>
<div class="tt" style="left:37px;">新订单</div>
<div class="tt" style="left:189.500px;">自动交易</div>
<div class="tf" style="left:933.500px;">M1</div>
<div class="tf" style="left:961.500px;">M5</div>
<div class="tf" style="left:987.500px;">M15</div>
<div class="tf" style="left:1015.500px;">M30</div>
<div class="tf" style="left:1046.500px;">H1</div>
<div class="tf" style="left:1073.500px;">H4</div>
<div class="tf" style="left:1102.500px;">D1</div>
<div class="tf" style="left:1130px;">W1</div>
<div class="tf" style="left:1157px;">MN</div>

</body></html>
